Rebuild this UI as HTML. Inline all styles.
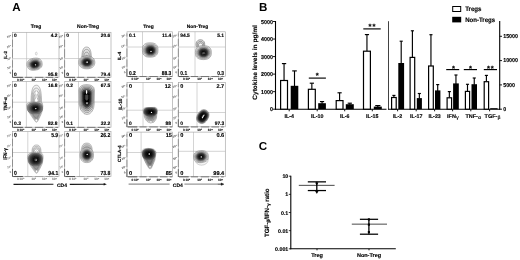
<!DOCTYPE html>
<html lang="en"><head><meta charset="utf-8"><title>Figure: Treg vs Non-Treg cytokines</title>
<style>html,body{margin:0;padding:0;background:#fff}body{width:520px;height:260px;overflow:hidden}svg{display:block;font-family:'Liberation Sans', 'DejaVu Sans', sans-serif;text-rendering:geometricPrecision}</style></head><body>
<svg width="520" height="260" viewBox="0 0 520 260">
<defs><filter id="b0" x="-50%" y="-50%" width="200%" height="200%"><feGaussianBlur stdDeviation="0.3"/></filter><filter id="b2" x="-10%" y="-10%" width="120%" height="120%"><feGaussianBlur stdDeviation="0.28"/></filter></defs>
<rect x="0" y="0" width="520" height="260" fill="#fff" stroke="none" stroke-width="0" />
<text x="12.3" y="11.1" font-size="11.6" font-weight="bold" fill="#000" text-anchor="start" >A</text>
<text x="36.1" y="28.2" font-size="5.0" font-weight="bold" fill="#000" text-anchor="middle" stroke="#000" stroke-width="0.14" >Treg</text>
<text x="88.0" y="28.2" font-size="5.0" font-weight="bold" fill="#000" text-anchor="middle" stroke="#000" stroke-width="0.14" >Non-Treg</text>
<text x="148.5" y="27.8" font-size="4.9" font-weight="bold" fill="#000" text-anchor="middle" stroke="#000" stroke-width="0.14" >Treg</text>
<text x="197.5" y="27.8" font-size="4.9" font-weight="bold" fill="#000" text-anchor="middle" stroke="#000" stroke-width="0.14" >Non-Treg</text>
<line x1="26.6" y1="32.3" x2="26.6" y2="77.2" stroke="#b0b0b0" stroke-width="0.55" />
<line x1="12.6" y1="58.7" x2="59.0" y2="58.7" stroke="#b0b0b0" stroke-width="0.55" />
<g filter="url(#b2)"><path d="M42.08 62.88 L42.22 64.56 L41.96 65.9 L41.37 67.09 L40.46 68.11 L39.24 68.96 L37.71 69.61 L35.64 70.11 L33.53 70.35 L31.87 70.26 L30.43 69.88 L29.22 69.23 L28.26 68.32 L27.57 67.15 L27.12 65.52 L26.98 63.84 L27.24 62.5 L27.83 61.31 L28.74 60.29 L29.96 59.44 L31.49 58.79 L33.56 58.29 L35.67 58.05 L37.33 58.14 L38.77 58.52 L39.98 59.17 L40.94 60.08 L41.63 61.25 Z" fill="#f6f6f6" stroke="#2c2c2c" stroke-width="0.34" vector-effect="non-scaling-stroke" transform="translate(35.2 64.6) scale(1) translate(-35.2 -64.6)"/><path d="M42.08 62.88 L42.22 64.56 L41.96 65.9 L41.37 67.09 L40.46 68.11 L39.24 68.96 L37.71 69.61 L35.64 70.11 L33.53 70.35 L31.87 70.26 L30.43 69.88 L29.22 69.23 L28.26 68.32 L27.57 67.15 L27.12 65.52 L26.98 63.84 L27.24 62.5 L27.83 61.31 L28.74 60.29 L29.96 59.44 L31.49 58.79 L33.56 58.29 L35.67 58.05 L37.33 58.14 L38.77 58.52 L39.98 59.17 L40.94 60.08 L41.63 61.25 Z" fill="#e8e8e8" stroke="#2c2c2c" stroke-width="0.34" vector-effect="non-scaling-stroke" transform="translate(35.2 64.6) scale(0.87) translate(-35.2 -64.6)"/><path d="M42.08 62.88 L42.22 64.56 L41.96 65.9 L41.37 67.09 L40.46 68.11 L39.24 68.96 L37.71 69.61 L35.64 70.11 L33.53 70.35 L31.87 70.26 L30.43 69.88 L29.22 69.23 L28.26 68.32 L27.57 67.15 L27.12 65.52 L26.98 63.84 L27.24 62.5 L27.83 61.31 L28.74 60.29 L29.96 59.44 L31.49 58.79 L33.56 58.29 L35.67 58.05 L37.33 58.14 L38.77 58.52 L39.98 59.17 L40.94 60.08 L41.63 61.25 Z" fill="#d0d0d0" stroke="#2c2c2c" stroke-width="0.34" vector-effect="non-scaling-stroke" transform="translate(35.2 64.6) scale(0.76) translate(-35.2 -64.6)"/><path d="M42.08 62.88 L42.22 64.56 L41.96 65.9 L41.37 67.09 L40.46 68.11 L39.24 68.96 L37.71 69.61 L35.64 70.11 L33.53 70.35 L31.87 70.26 L30.43 69.88 L29.22 69.23 L28.26 68.32 L27.57 67.15 L27.12 65.52 L26.98 63.84 L27.24 62.5 L27.83 61.31 L28.74 60.29 L29.96 59.44 L31.49 58.79 L33.56 58.29 L35.67 58.05 L37.33 58.14 L38.77 58.52 L39.98 59.17 L40.94 60.08 L41.63 61.25 Z" fill="#a4a4a4" stroke="#2c2c2c" stroke-width="0.34" vector-effect="non-scaling-stroke" transform="translate(35.2 64.6) scale(0.67) translate(-35.2 -64.6)"/><path d="M42.08 62.88 L42.22 64.56 L41.96 65.9 L41.37 67.09 L40.46 68.11 L39.24 68.96 L37.71 69.61 L35.64 70.11 L33.53 70.35 L31.87 70.26 L30.43 69.88 L29.22 69.23 L28.26 68.32 L27.57 67.15 L27.12 65.52 L26.98 63.84 L27.24 62.5 L27.83 61.31 L28.74 60.29 L29.96 59.44 L31.49 58.79 L33.56 58.29 L35.67 58.05 L37.33 58.14 L38.77 58.52 L39.98 59.17 L40.94 60.08 L41.63 61.25 Z" fill="#666" stroke="#2c2c2c" stroke-width="0.34" vector-effect="non-scaling-stroke" transform="translate(35.2 64.6) scale(0.59) translate(-35.2 -64.6)"/><path d="M42.08 62.88 L42.22 64.56 L41.96 65.9 L41.37 67.09 L40.46 68.11 L39.24 68.96 L37.71 69.61 L35.64 70.11 L33.53 70.35 L31.87 70.26 L30.43 69.88 L29.22 69.23 L28.26 68.32 L27.57 67.15 L27.12 65.52 L26.98 63.84 L27.24 62.5 L27.83 61.31 L28.74 60.29 L29.96 59.44 L31.49 58.79 L33.56 58.29 L35.67 58.05 L37.33 58.14 L38.77 58.52 L39.98 59.17 L40.94 60.08 L41.63 61.25 Z" fill="#383838" stroke="#2c2c2c" stroke-width="0.34" vector-effect="non-scaling-stroke" transform="translate(35.2 64.6) scale(0.5) translate(-35.2 -64.6)"/><path d="M42.08 62.88 L42.22 64.56 L41.96 65.9 L41.37 67.09 L40.46 68.11 L39.24 68.96 L37.71 69.61 L35.64 70.11 L33.53 70.35 L31.87 70.26 L30.43 69.88 L29.22 69.23 L28.26 68.32 L27.57 67.15 L27.12 65.52 L26.98 63.84 L27.24 62.5 L27.83 61.31 L28.74 60.29 L29.96 59.44 L31.49 58.79 L33.56 58.29 L35.67 58.05 L37.33 58.14 L38.77 58.52 L39.98 59.17 L40.94 60.08 L41.63 61.25 Z" fill="#1c1c1c" stroke="#2c2c2c" stroke-width="0.34" vector-effect="non-scaling-stroke" transform="translate(35.2 64.6) scale(0.4) translate(-35.2 -64.6)"/><path d="M42.08 62.88 L42.22 64.56 L41.96 65.9 L41.37 67.09 L40.46 68.11 L39.24 68.96 L37.71 69.61 L35.64 70.11 L33.53 70.35 L31.87 70.26 L30.43 69.88 L29.22 69.23 L28.26 68.32 L27.57 67.15 L27.12 65.52 L26.98 63.84 L27.24 62.5 L27.83 61.31 L28.74 60.29 L29.96 59.44 L31.49 58.79 L33.56 58.29 L35.67 58.05 L37.33 58.14 L38.77 58.52 L39.98 59.17 L40.94 60.08 L41.63 61.25 Z" fill="#0a0a0a" stroke="#2c2c2c" stroke-width="0.34" vector-effect="non-scaling-stroke" transform="translate(35.2 64.6) scale(0.28) translate(-35.2 -64.6)"/></g><ellipse cx="35.5" cy="64.8" rx="0.7" ry="0.6" fill="#fff" stroke="none" stroke-width="0" filter="url(#b0)"/><ellipse cx="36.3" cy="53.6" rx="0.9" ry="1.4" fill="none" stroke="#888" stroke-width="0.35" />
<rect x="12.6" y="32.3" width="46.4" height="44.900000000000006" fill="none" stroke="#a4a4a4" stroke-width="0.65" />
<line x1="13.2" y1="77.35" x2="22.9" y2="77.35" stroke="#3a3a3a" stroke-width="0.85" />
<line x1="25.1" y1="77.35" x2="32.2" y2="77.35" stroke="#585858" stroke-width="0.75" />
<line x1="34.9" y1="77.35" x2="43.4" y2="77.35" stroke="#585858" stroke-width="0.75" />
<line x1="45.6" y1="77.35" x2="53.2" y2="77.35" stroke="#585858" stroke-width="0.75" />
<line x1="55.3" y1="77.35" x2="58.0" y2="77.35" stroke="#585858" stroke-width="0.75" />
<line x1="12.5" y1="69.7" x2="12.5" y2="77.5" stroke="#4a4a4a" stroke-width="0.85" />
<line x1="12.5" y1="60.2" x2="12.5" y2="67.6" stroke="#7a7a7a" stroke-width="0.7" />
<line x1="12.5" y1="49.2" x2="12.5" y2="57.8" stroke="#7a7a7a" stroke-width="0.7" />
<line x1="12.5" y1="39.6" x2="12.5" y2="47.0" stroke="#7a7a7a" stroke-width="0.7" />
<line x1="12.5" y1="34.2" x2="12.5" y2="37.4" stroke="#7a7a7a" stroke-width="0.7" />
<text x="18.0" y="81.0" font-size="3.2" font-weight="bold" fill="#111" text-anchor="middle" stroke="#111" stroke-width="0.12">0</text>
<text x="21.9" y="81.0" font-size="3.2" font-weight="bold" fill="#111" text-anchor="middle" stroke="#111" stroke-width="0.12">10²</text>
<text x="33.8" y="81.0" font-size="3.2" font-weight="bold" fill="#111" text-anchor="middle" stroke="#111" stroke-width="0.12">10³</text>
<text x="44.6" y="81.0" font-size="3.2" font-weight="bold" fill="#111" text-anchor="middle" stroke="#111" stroke-width="0.12">10⁴</text>
<text x="54.6" y="81.0" font-size="3.2" font-weight="bold" fill="#111" text-anchor="middle" stroke="#111" stroke-width="0.12">10⁵</text>
<text x="11.4" y="36.5" font-size="2.8" font-weight="bold" fill="#3a3a3a" text-anchor="end" transform="rotate(-20 11.4 36.5)" >10⁵</text>
<text x="11.4" y="46.6" font-size="2.8" font-weight="bold" fill="#3a3a3a" text-anchor="end" transform="rotate(-20 11.4 46.6)" >10⁴</text>
<text x="11.4" y="58.9" font-size="2.8" font-weight="bold" fill="#3a3a3a" text-anchor="end" transform="rotate(-20 11.4 58.9)" >10³</text>
<text x="11.4" y="67.9" font-size="2.8" font-weight="bold" fill="#3a3a3a" text-anchor="end" transform="rotate(-20 11.4 67.9)" >10²</text>
<text x="11.4" y="73.4" font-size="2.8" font-weight="bold" fill="#3a3a3a" text-anchor="end" transform="rotate(-20 11.4 73.4)" >0</text>
<text x="14.1" y="36.7" font-size="4.85" font-weight="bold" fill="#000" text-anchor="start" stroke="#000" stroke-width="0.14" >0</text>
<text x="57.4" y="36.7" font-size="4.85" font-weight="bold" fill="#000" text-anchor="end" stroke="#000" stroke-width="0.14" >4.2</text>
<text x="14.1" y="75.5" font-size="4.85" font-weight="bold" fill="#000" text-anchor="start" stroke="#000" stroke-width="0.14" >0</text>
<text x="57.4" y="75.5" font-size="4.85" font-weight="bold" fill="#000" text-anchor="end" stroke="#000" stroke-width="0.14" >95.8</text>
<line x1="142.5" y1="31.8" x2="142.5" y2="76.4" stroke="#b0b0b0" stroke-width="0.55" />
<line x1="127.0" y1="47.0" x2="172.5" y2="47.0" stroke="#b0b0b0" stroke-width="0.55" />
<g filter="url(#b2)"><path d="M158.0 50.0 L157.85 52.21 L157.39 53.73 L156.63 54.96 L155.58 55.93 L154.24 56.63 L152.59 57.06 L150.2 57.2 L147.81 57.06 L146.16 56.63 L144.82 55.93 L143.77 54.96 L143.01 53.73 L142.55 52.21 L142.4 50.0 L142.55 47.79 L143.01 46.27 L143.77 45.04 L144.82 44.07 L146.16 43.37 L147.81 42.94 L150.2 42.8 L152.59 42.94 L154.24 43.37 L155.58 44.07 L156.63 45.04 L157.39 46.27 L157.85 47.79 Z" fill="#f6f6f6" stroke="#2c2c2c" stroke-width="0.34" vector-effect="non-scaling-stroke" transform="translate(150.8 50.8) scale(1) translate(-150.8 -50.8)"/><path d="M158.0 50.0 L157.85 52.21 L157.39 53.73 L156.63 54.96 L155.58 55.93 L154.24 56.63 L152.59 57.06 L150.2 57.2 L147.81 57.06 L146.16 56.63 L144.82 55.93 L143.77 54.96 L143.01 53.73 L142.55 52.21 L142.4 50.0 L142.55 47.79 L143.01 46.27 L143.77 45.04 L144.82 44.07 L146.16 43.37 L147.81 42.94 L150.2 42.8 L152.59 42.94 L154.24 43.37 L155.58 44.07 L156.63 45.04 L157.39 46.27 L157.85 47.79 Z" fill="#e8e8e8" stroke="#2c2c2c" stroke-width="0.34" vector-effect="non-scaling-stroke" transform="translate(150.8 50.8) scale(0.87) translate(-150.8 -50.8)"/><path d="M158.0 50.0 L157.85 52.21 L157.39 53.73 L156.63 54.96 L155.58 55.93 L154.24 56.63 L152.59 57.06 L150.2 57.2 L147.81 57.06 L146.16 56.63 L144.82 55.93 L143.77 54.96 L143.01 53.73 L142.55 52.21 L142.4 50.0 L142.55 47.79 L143.01 46.27 L143.77 45.04 L144.82 44.07 L146.16 43.37 L147.81 42.94 L150.2 42.8 L152.59 42.94 L154.24 43.37 L155.58 44.07 L156.63 45.04 L157.39 46.27 L157.85 47.79 Z" fill="#d0d0d0" stroke="#2c2c2c" stroke-width="0.34" vector-effect="non-scaling-stroke" transform="translate(150.8 50.8) scale(0.76) translate(-150.8 -50.8)"/><path d="M158.0 50.0 L157.85 52.21 L157.39 53.73 L156.63 54.96 L155.58 55.93 L154.24 56.63 L152.59 57.06 L150.2 57.2 L147.81 57.06 L146.16 56.63 L144.82 55.93 L143.77 54.96 L143.01 53.73 L142.55 52.21 L142.4 50.0 L142.55 47.79 L143.01 46.27 L143.77 45.04 L144.82 44.07 L146.16 43.37 L147.81 42.94 L150.2 42.8 L152.59 42.94 L154.24 43.37 L155.58 44.07 L156.63 45.04 L157.39 46.27 L157.85 47.79 Z" fill="#a4a4a4" stroke="#2c2c2c" stroke-width="0.34" vector-effect="non-scaling-stroke" transform="translate(150.8 50.8) scale(0.67) translate(-150.8 -50.8)"/><path d="M158.0 50.0 L157.85 52.21 L157.39 53.73 L156.63 54.96 L155.58 55.93 L154.24 56.63 L152.59 57.06 L150.2 57.2 L147.81 57.06 L146.16 56.63 L144.82 55.93 L143.77 54.96 L143.01 53.73 L142.55 52.21 L142.4 50.0 L142.55 47.79 L143.01 46.27 L143.77 45.04 L144.82 44.07 L146.16 43.37 L147.81 42.94 L150.2 42.8 L152.59 42.94 L154.24 43.37 L155.58 44.07 L156.63 45.04 L157.39 46.27 L157.85 47.79 Z" fill="#666" stroke="#2c2c2c" stroke-width="0.34" vector-effect="non-scaling-stroke" transform="translate(150.8 50.8) scale(0.59) translate(-150.8 -50.8)"/><path d="M158.0 50.0 L157.85 52.21 L157.39 53.73 L156.63 54.96 L155.58 55.93 L154.24 56.63 L152.59 57.06 L150.2 57.2 L147.81 57.06 L146.16 56.63 L144.82 55.93 L143.77 54.96 L143.01 53.73 L142.55 52.21 L142.4 50.0 L142.55 47.79 L143.01 46.27 L143.77 45.04 L144.82 44.07 L146.16 43.37 L147.81 42.94 L150.2 42.8 L152.59 42.94 L154.24 43.37 L155.58 44.07 L156.63 45.04 L157.39 46.27 L157.85 47.79 Z" fill="#383838" stroke="#2c2c2c" stroke-width="0.34" vector-effect="non-scaling-stroke" transform="translate(150.8 50.8) scale(0.5) translate(-150.8 -50.8)"/><path d="M158.0 50.0 L157.85 52.21 L157.39 53.73 L156.63 54.96 L155.58 55.93 L154.24 56.63 L152.59 57.06 L150.2 57.2 L147.81 57.06 L146.16 56.63 L144.82 55.93 L143.77 54.96 L143.01 53.73 L142.55 52.21 L142.4 50.0 L142.55 47.79 L143.01 46.27 L143.77 45.04 L144.82 44.07 L146.16 43.37 L147.81 42.94 L150.2 42.8 L152.59 42.94 L154.24 43.37 L155.58 44.07 L156.63 45.04 L157.39 46.27 L157.85 47.79 Z" fill="#1c1c1c" stroke="#2c2c2c" stroke-width="0.34" vector-effect="non-scaling-stroke" transform="translate(150.8 50.8) scale(0.4) translate(-150.8 -50.8)"/><path d="M158.0 50.0 L157.85 52.21 L157.39 53.73 L156.63 54.96 L155.58 55.93 L154.24 56.63 L152.59 57.06 L150.2 57.2 L147.81 57.06 L146.16 56.63 L144.82 55.93 L143.77 54.96 L143.01 53.73 L142.55 52.21 L142.4 50.0 L142.55 47.79 L143.01 46.27 L143.77 45.04 L144.82 44.07 L146.16 43.37 L147.81 42.94 L150.2 42.8 L152.59 42.94 L154.24 43.37 L155.58 44.07 L156.63 45.04 L157.39 46.27 L157.85 47.79 Z" fill="#0a0a0a" stroke="#2c2c2c" stroke-width="0.34" vector-effect="non-scaling-stroke" transform="translate(150.8 50.8) scale(0.28) translate(-150.8 -50.8)"/></g><ellipse cx="151" cy="51.4" rx="0.7" ry="0.6" fill="#fff" stroke="none" stroke-width="0" filter="url(#b0)"/>
<rect x="127.0" y="31.8" width="45.5" height="44.60000000000001" fill="none" stroke="#a4a4a4" stroke-width="0.65" />
<line x1="127.6" y1="76.55" x2="137.3" y2="76.55" stroke="#3a3a3a" stroke-width="0.85" />
<line x1="139.5" y1="76.55" x2="146.6" y2="76.55" stroke="#585858" stroke-width="0.75" />
<line x1="149.3" y1="76.55" x2="157.8" y2="76.55" stroke="#585858" stroke-width="0.75" />
<line x1="160.0" y1="76.55" x2="167.6" y2="76.55" stroke="#585858" stroke-width="0.75" />
<line x1="169.7" y1="76.55" x2="172.4" y2="76.55" stroke="#585858" stroke-width="0.75" />
<line x1="126.9" y1="68.9" x2="126.9" y2="76.7" stroke="#4a4a4a" stroke-width="0.85" />
<line x1="126.9" y1="59.4" x2="126.9" y2="66.8" stroke="#7a7a7a" stroke-width="0.7" />
<line x1="126.9" y1="48.4" x2="126.9" y2="57.0" stroke="#7a7a7a" stroke-width="0.7" />
<line x1="126.9" y1="38.8" x2="126.9" y2="46.2" stroke="#7a7a7a" stroke-width="0.7" />
<line x1="126.9" y1="33.4" x2="126.9" y2="36.6" stroke="#7a7a7a" stroke-width="0.7" />
<text x="132.4" y="80.2" font-size="3.2" font-weight="bold" fill="#111" text-anchor="middle" stroke="#111" stroke-width="0.12">0</text>
<text x="136.3" y="80.2" font-size="3.2" font-weight="bold" fill="#111" text-anchor="middle" stroke="#111" stroke-width="0.12">10²</text>
<text x="148.2" y="80.2" font-size="3.2" font-weight="bold" fill="#111" text-anchor="middle" stroke="#111" stroke-width="0.12">10³</text>
<text x="159.0" y="80.2" font-size="3.2" font-weight="bold" fill="#111" text-anchor="middle" stroke="#111" stroke-width="0.12">10⁴</text>
<text x="169.0" y="80.2" font-size="3.2" font-weight="bold" fill="#111" text-anchor="middle" stroke="#111" stroke-width="0.12">10⁵</text>
<text x="125.8" y="36.0" font-size="2.8" font-weight="bold" fill="#3a3a3a" text-anchor="end" transform="rotate(-20 125.8 36.0)" >10⁵</text>
<text x="125.8" y="46.1" font-size="2.8" font-weight="bold" fill="#3a3a3a" text-anchor="end" transform="rotate(-20 125.8 46.1)" >10⁴</text>
<text x="125.8" y="58.4" font-size="2.8" font-weight="bold" fill="#3a3a3a" text-anchor="end" transform="rotate(-20 125.8 58.4)" >10³</text>
<text x="125.8" y="67.4" font-size="2.8" font-weight="bold" fill="#3a3a3a" text-anchor="end" transform="rotate(-20 125.8 67.4)" >10²</text>
<text x="125.8" y="72.9" font-size="2.8" font-weight="bold" fill="#3a3a3a" text-anchor="end" transform="rotate(-20 125.8 72.9)" >0</text>
<text x="128.9" y="36.7" font-size="4.9" font-weight="bold" fill="#000" text-anchor="start" stroke="#000" stroke-width="0.14" >0.1</text>
<text x="171.3" y="36.7" font-size="4.9" font-weight="bold" fill="#000" text-anchor="end" stroke="#000" stroke-width="0.14" >11.4</text>
<text transform="translate(128.9 74.7) scale(0.86 1)" font-size="5.7" font-weight="bold" text-anchor="start" stroke="#000" stroke-width="0.14">0.2</text>
<text transform="translate(171.3 74.7) scale(0.86 1)" font-size="5.7" font-weight="bold" text-anchor="end" stroke="#000" stroke-width="0.14">88.3</text>
<line x1="78.5" y1="32.3" x2="78.5" y2="77.2" stroke="#b0b0b0" stroke-width="0.55" />
<line x1="64.7" y1="58.5" x2="111.0" y2="58.5" stroke="#b0b0b0" stroke-width="0.55" />
<g filter="url(#b2)"><path d="M81.7 60 C81.8 51.94 82.68 47 86.6 47 C90.52 47 91.4 51.94 91.5 60 Z" fill="#e9e9e9" stroke="#4e4e4e" stroke-width="0.38" vector-effect="non-scaling-stroke" transform="translate(86.6 60) scale(1) translate(-86.6 -60)"/><path d="M81.7 60 C81.8 51.94 82.68 47 86.6 47 C90.52 47 91.4 51.94 91.5 60 Z" fill="#dedede" stroke="#4e4e4e" stroke-width="0.38" vector-effect="non-scaling-stroke" transform="translate(86.6 60) scale(0.82) translate(-86.6 -60)"/><path d="M81.7 60 C81.8 51.94 82.68 47 86.6 47 C90.52 47 91.4 51.94 91.5 60 Z" fill="#d6d6d6" stroke="#4e4e4e" stroke-width="0.38" vector-effect="non-scaling-stroke" transform="translate(86.6 60) scale(0.6) translate(-86.6 -60)"/><path d="M81.7 60 C81.8 51.94 82.68 47 86.6 47 C90.52 47 91.4 51.94 91.5 60 Z" fill="#e4e4e4" stroke="#4e4e4e" stroke-width="0.38" vector-effect="non-scaling-stroke" transform="translate(86.6 60) scale(0.36) translate(-86.6 -60)"/></g><g filter="url(#b2)"><path d="M94.8 62.4 L94.62 64.1 L94.1 65.47 L93.24 66.62 L92.08 67.55 L90.63 68.24 L88.93 68.66 L86.8 68.8 L84.67 68.66 L82.97 68.24 L81.52 67.55 L80.36 66.62 L79.5 65.47 L78.98 64.1 L78.8 62.4 L78.98 60.7 L79.5 59.33 L80.36 58.18 L81.52 57.25 L82.97 56.56 L84.67 56.14 L86.8 56.0 L88.93 56.14 L90.63 56.56 L92.08 57.25 L93.24 58.18 L94.1 59.33 L94.62 60.7 Z" fill="#f6f6f6" stroke="#2c2c2c" stroke-width="0.34" vector-effect="non-scaling-stroke" transform="translate(86.9 62.2) scale(1) translate(-86.9 -62.2)"/><path d="M94.8 62.4 L94.62 64.1 L94.1 65.47 L93.24 66.62 L92.08 67.55 L90.63 68.24 L88.93 68.66 L86.8 68.8 L84.67 68.66 L82.97 68.24 L81.52 67.55 L80.36 66.62 L79.5 65.47 L78.98 64.1 L78.8 62.4 L78.98 60.7 L79.5 59.33 L80.36 58.18 L81.52 57.25 L82.97 56.56 L84.67 56.14 L86.8 56.0 L88.93 56.14 L90.63 56.56 L92.08 57.25 L93.24 58.18 L94.1 59.33 L94.62 60.7 Z" fill="#e8e8e8" stroke="#2c2c2c" stroke-width="0.34" vector-effect="non-scaling-stroke" transform="translate(86.9 62.2) scale(0.87) translate(-86.9 -62.2)"/><path d="M94.8 62.4 L94.62 64.1 L94.1 65.47 L93.24 66.62 L92.08 67.55 L90.63 68.24 L88.93 68.66 L86.8 68.8 L84.67 68.66 L82.97 68.24 L81.52 67.55 L80.36 66.62 L79.5 65.47 L78.98 64.1 L78.8 62.4 L78.98 60.7 L79.5 59.33 L80.36 58.18 L81.52 57.25 L82.97 56.56 L84.67 56.14 L86.8 56.0 L88.93 56.14 L90.63 56.56 L92.08 57.25 L93.24 58.18 L94.1 59.33 L94.62 60.7 Z" fill="#d0d0d0" stroke="#2c2c2c" stroke-width="0.34" vector-effect="non-scaling-stroke" transform="translate(86.9 62.2) scale(0.76) translate(-86.9 -62.2)"/><path d="M94.8 62.4 L94.62 64.1 L94.1 65.47 L93.24 66.62 L92.08 67.55 L90.63 68.24 L88.93 68.66 L86.8 68.8 L84.67 68.66 L82.97 68.24 L81.52 67.55 L80.36 66.62 L79.5 65.47 L78.98 64.1 L78.8 62.4 L78.98 60.7 L79.5 59.33 L80.36 58.18 L81.52 57.25 L82.97 56.56 L84.67 56.14 L86.8 56.0 L88.93 56.14 L90.63 56.56 L92.08 57.25 L93.24 58.18 L94.1 59.33 L94.62 60.7 Z" fill="#a4a4a4" stroke="#2c2c2c" stroke-width="0.34" vector-effect="non-scaling-stroke" transform="translate(86.9 62.2) scale(0.67) translate(-86.9 -62.2)"/><path d="M94.8 62.4 L94.62 64.1 L94.1 65.47 L93.24 66.62 L92.08 67.55 L90.63 68.24 L88.93 68.66 L86.8 68.8 L84.67 68.66 L82.97 68.24 L81.52 67.55 L80.36 66.62 L79.5 65.47 L78.98 64.1 L78.8 62.4 L78.98 60.7 L79.5 59.33 L80.36 58.18 L81.52 57.25 L82.97 56.56 L84.67 56.14 L86.8 56.0 L88.93 56.14 L90.63 56.56 L92.08 57.25 L93.24 58.18 L94.1 59.33 L94.62 60.7 Z" fill="#666" stroke="#2c2c2c" stroke-width="0.34" vector-effect="non-scaling-stroke" transform="translate(86.9 62.2) scale(0.59) translate(-86.9 -62.2)"/><path d="M94.8 62.4 L94.62 64.1 L94.1 65.47 L93.24 66.62 L92.08 67.55 L90.63 68.24 L88.93 68.66 L86.8 68.8 L84.67 68.66 L82.97 68.24 L81.52 67.55 L80.36 66.62 L79.5 65.47 L78.98 64.1 L78.8 62.4 L78.98 60.7 L79.5 59.33 L80.36 58.18 L81.52 57.25 L82.97 56.56 L84.67 56.14 L86.8 56.0 L88.93 56.14 L90.63 56.56 L92.08 57.25 L93.24 58.18 L94.1 59.33 L94.62 60.7 Z" fill="#383838" stroke="#2c2c2c" stroke-width="0.34" vector-effect="non-scaling-stroke" transform="translate(86.9 62.2) scale(0.5) translate(-86.9 -62.2)"/><path d="M94.8 62.4 L94.62 64.1 L94.1 65.47 L93.24 66.62 L92.08 67.55 L90.63 68.24 L88.93 68.66 L86.8 68.8 L84.67 68.66 L82.97 68.24 L81.52 67.55 L80.36 66.62 L79.5 65.47 L78.98 64.1 L78.8 62.4 L78.98 60.7 L79.5 59.33 L80.36 58.18 L81.52 57.25 L82.97 56.56 L84.67 56.14 L86.8 56.0 L88.93 56.14 L90.63 56.56 L92.08 57.25 L93.24 58.18 L94.1 59.33 L94.62 60.7 Z" fill="#1c1c1c" stroke="#2c2c2c" stroke-width="0.34" vector-effect="non-scaling-stroke" transform="translate(86.9 62.2) scale(0.4) translate(-86.9 -62.2)"/><path d="M94.8 62.4 L94.62 64.1 L94.1 65.47 L93.24 66.62 L92.08 67.55 L90.63 68.24 L88.93 68.66 L86.8 68.8 L84.67 68.66 L82.97 68.24 L81.52 67.55 L80.36 66.62 L79.5 65.47 L78.98 64.1 L78.8 62.4 L78.98 60.7 L79.5 59.33 L80.36 58.18 L81.52 57.25 L82.97 56.56 L84.67 56.14 L86.8 56.0 L88.93 56.14 L90.63 56.56 L92.08 57.25 L93.24 58.18 L94.1 59.33 L94.62 60.7 Z" fill="#0a0a0a" stroke="#2c2c2c" stroke-width="0.34" vector-effect="non-scaling-stroke" transform="translate(86.9 62.2) scale(0.28) translate(-86.9 -62.2)"/><path d="M94.8 62.4 L94.62 64.1 L94.1 65.47 L93.24 66.62 L92.08 67.55 L90.63 68.24 L88.93 68.66 L86.8 68.8 L84.67 68.66 L82.97 68.24 L81.52 67.55 L80.36 66.62 L79.5 65.47 L78.98 64.1 L78.8 62.4 L78.98 60.7 L79.5 59.33 L80.36 58.18 L81.52 57.25 L82.97 56.56 L84.67 56.14 L86.8 56.0 L88.93 56.14 L90.63 56.56 L92.08 57.25 L93.24 58.18 L94.1 59.33 L94.62 60.7 Z" fill="#5a5a5a" stroke="#2c2c2c" stroke-width="0.34" vector-effect="non-scaling-stroke" transform="translate(86.9 62.2) scale(0.16) translate(-86.9 -62.2)"/></g><ellipse cx="87.2" cy="62.2" rx="0.7" ry="0.6" fill="#fff" stroke="none" stroke-width="0" filter="url(#b0)"/>
<rect x="64.7" y="32.3" width="46.3" height="44.900000000000006" fill="none" stroke="#a4a4a4" stroke-width="0.65" />
<line x1="65.3" y1="77.35" x2="75.0" y2="77.35" stroke="#3a3a3a" stroke-width="0.85" />
<line x1="77.2" y1="77.35" x2="84.3" y2="77.35" stroke="#585858" stroke-width="0.75" />
<line x1="87.0" y1="77.35" x2="95.5" y2="77.35" stroke="#585858" stroke-width="0.75" />
<line x1="97.7" y1="77.35" x2="105.3" y2="77.35" stroke="#585858" stroke-width="0.75" />
<line x1="107.4" y1="77.35" x2="110.1" y2="77.35" stroke="#585858" stroke-width="0.75" />
<line x1="64.6" y1="69.7" x2="64.6" y2="77.5" stroke="#4a4a4a" stroke-width="0.85" />
<line x1="64.6" y1="60.2" x2="64.6" y2="67.6" stroke="#7a7a7a" stroke-width="0.7" />
<line x1="64.6" y1="49.2" x2="64.6" y2="57.8" stroke="#7a7a7a" stroke-width="0.7" />
<line x1="64.6" y1="39.6" x2="64.6" y2="47.0" stroke="#7a7a7a" stroke-width="0.7" />
<line x1="64.6" y1="34.2" x2="64.6" y2="37.4" stroke="#7a7a7a" stroke-width="0.7" />
<text x="70.1" y="81.0" font-size="3.2" font-weight="bold" fill="#111" text-anchor="middle" stroke="#111" stroke-width="0.12">0</text>
<text x="74.0" y="81.0" font-size="3.2" font-weight="bold" fill="#111" text-anchor="middle" stroke="#111" stroke-width="0.12">10²</text>
<text x="85.9" y="81.0" font-size="3.2" font-weight="bold" fill="#111" text-anchor="middle" stroke="#111" stroke-width="0.12">10³</text>
<text x="96.7" y="81.0" font-size="3.2" font-weight="bold" fill="#111" text-anchor="middle" stroke="#111" stroke-width="0.12">10⁴</text>
<text x="106.7" y="81.0" font-size="3.2" font-weight="bold" fill="#111" text-anchor="middle" stroke="#111" stroke-width="0.12">10⁵</text>
<text x="63.5" y="36.5" font-size="2.8" font-weight="bold" fill="#3a3a3a" text-anchor="end" transform="rotate(-20 63.5 36.5)" >10⁵</text>
<text x="63.5" y="46.6" font-size="2.8" font-weight="bold" fill="#3a3a3a" text-anchor="end" transform="rotate(-20 63.5 46.6)" >10⁴</text>
<text x="63.5" y="58.9" font-size="2.8" font-weight="bold" fill="#3a3a3a" text-anchor="end" transform="rotate(-20 63.5 58.9)" >10³</text>
<text x="63.5" y="67.9" font-size="2.8" font-weight="bold" fill="#3a3a3a" text-anchor="end" transform="rotate(-20 63.5 67.9)" >10²</text>
<text x="63.5" y="73.4" font-size="2.8" font-weight="bold" fill="#3a3a3a" text-anchor="end" transform="rotate(-20 63.5 73.4)" >0</text>
<text x="66.2" y="36.7" font-size="4.85" font-weight="bold" fill="#000" text-anchor="start" stroke="#000" stroke-width="0.14" >0</text>
<text x="110.3" y="36.7" font-size="4.85" font-weight="bold" fill="#000" text-anchor="end" stroke="#000" stroke-width="0.14" >20.6</text>
<text x="66.2" y="75.5" font-size="4.85" font-weight="bold" fill="#000" text-anchor="start" stroke="#000" stroke-width="0.14" >0</text>
<text x="110.3" y="75.5" font-size="4.85" font-weight="bold" fill="#000" text-anchor="end" stroke="#000" stroke-width="0.14" >79.4</text>
<line x1="195.0" y1="31.8" x2="195.0" y2="76.4" stroke="#b0b0b0" stroke-width="0.55" />
<line x1="178.4" y1="47.0" x2="225.3" y2="47.0" stroke="#b0b0b0" stroke-width="0.55" />
<g filter="url(#b2)"><path d="M204.7 44.4 L204.6 45.56 L204.31 46.54 L203.83 47.38 L203.19 48.07 L202.4 48.58 L201.48 48.89 L200.4 49.0 L199.32 48.89 L198.4 48.58 L197.61 48.07 L196.97 47.38 L196.49 46.54 L196.2 45.56 L196.1 44.4 L196.2 43.24 L196.49 42.26 L196.97 41.42 L197.61 40.73 L198.4 40.22 L199.32 39.91 L200.4 39.8 L201.48 39.91 L202.4 40.22 L203.19 40.73 L203.83 41.42 L204.31 42.26 L204.6 43.24 Z" fill="#ededed" stroke="#4a4a4a" stroke-width="0.55" vector-effect="non-scaling-stroke" transform="translate(200.6 45.6) scale(1) translate(-200.6 -45.6)"/><path d="M204.7 44.4 L204.6 45.56 L204.31 46.54 L203.83 47.38 L203.19 48.07 L202.4 48.58 L201.48 48.89 L200.4 49.0 L199.32 48.89 L198.4 48.58 L197.61 48.07 L196.97 47.38 L196.49 46.54 L196.2 45.56 L196.1 44.4 L196.2 43.24 L196.49 42.26 L196.97 41.42 L197.61 40.73 L198.4 40.22 L199.32 39.91 L200.4 39.8 L201.48 39.91 L202.4 40.22 L203.19 40.73 L203.83 41.42 L204.31 42.26 L204.6 43.24 Z" fill="#dcdcdc" stroke="#4a4a4a" stroke-width="0.55" vector-effect="non-scaling-stroke" transform="translate(200.6 45.6) scale(0.74) translate(-200.6 -45.6)"/><path d="M204.7 44.4 L204.6 45.56 L204.31 46.54 L203.83 47.38 L203.19 48.07 L202.4 48.58 L201.48 48.89 L200.4 49.0 L199.32 48.89 L198.4 48.58 L197.61 48.07 L196.97 47.38 L196.49 46.54 L196.2 45.56 L196.1 44.4 L196.2 43.24 L196.49 42.26 L196.97 41.42 L197.61 40.73 L198.4 40.22 L199.32 39.91 L200.4 39.8 L201.48 39.91 L202.4 40.22 L203.19 40.73 L203.83 41.42 L204.31 42.26 L204.6 43.24 Z" fill="#f6f6f6" stroke="#4a4a4a" stroke-width="0.55" vector-effect="non-scaling-stroke" transform="translate(200.6 45.6) scale(0.46) translate(-200.6 -45.6)"/></g><g filter="url(#b2)"><path d="M211.4 52.6 L211.24 54.65 L210.75 56.14 L209.94 57.36 L208.84 58.33 L207.45 59.03 L205.75 59.46 L203.4 59.6 L201.05 59.46 L199.35 59.03 L197.96 58.33 L196.86 57.36 L196.05 56.14 L195.56 54.65 L195.4 52.6 L195.56 50.55 L196.05 49.06 L196.86 47.84 L197.96 46.87 L199.35 46.17 L201.05 45.74 L203.4 45.6 L205.75 45.74 L207.45 46.17 L208.84 46.87 L209.94 47.84 L210.75 49.06 L211.24 50.55 Z" fill="#f6f6f6" stroke="#2c2c2c" stroke-width="0.34" vector-effect="non-scaling-stroke" transform="translate(203.8 52.8) scale(1) translate(-203.8 -52.8)"/><path d="M211.4 52.6 L211.24 54.65 L210.75 56.14 L209.94 57.36 L208.84 58.33 L207.45 59.03 L205.75 59.46 L203.4 59.6 L201.05 59.46 L199.35 59.03 L197.96 58.33 L196.86 57.36 L196.05 56.14 L195.56 54.65 L195.4 52.6 L195.56 50.55 L196.05 49.06 L196.86 47.84 L197.96 46.87 L199.35 46.17 L201.05 45.74 L203.4 45.6 L205.75 45.74 L207.45 46.17 L208.84 46.87 L209.94 47.84 L210.75 49.06 L211.24 50.55 Z" fill="#e8e8e8" stroke="#2c2c2c" stroke-width="0.34" vector-effect="non-scaling-stroke" transform="translate(203.8 52.8) scale(0.87) translate(-203.8 -52.8)"/><path d="M211.4 52.6 L211.24 54.65 L210.75 56.14 L209.94 57.36 L208.84 58.33 L207.45 59.03 L205.75 59.46 L203.4 59.6 L201.05 59.46 L199.35 59.03 L197.96 58.33 L196.86 57.36 L196.05 56.14 L195.56 54.65 L195.4 52.6 L195.56 50.55 L196.05 49.06 L196.86 47.84 L197.96 46.87 L199.35 46.17 L201.05 45.74 L203.4 45.6 L205.75 45.74 L207.45 46.17 L208.84 46.87 L209.94 47.84 L210.75 49.06 L211.24 50.55 Z" fill="#d0d0d0" stroke="#2c2c2c" stroke-width="0.34" vector-effect="non-scaling-stroke" transform="translate(203.8 52.8) scale(0.76) translate(-203.8 -52.8)"/><path d="M211.4 52.6 L211.24 54.65 L210.75 56.14 L209.94 57.36 L208.84 58.33 L207.45 59.03 L205.75 59.46 L203.4 59.6 L201.05 59.46 L199.35 59.03 L197.96 58.33 L196.86 57.36 L196.05 56.14 L195.56 54.65 L195.4 52.6 L195.56 50.55 L196.05 49.06 L196.86 47.84 L197.96 46.87 L199.35 46.17 L201.05 45.74 L203.4 45.6 L205.75 45.74 L207.45 46.17 L208.84 46.87 L209.94 47.84 L210.75 49.06 L211.24 50.55 Z" fill="#a4a4a4" stroke="#2c2c2c" stroke-width="0.34" vector-effect="non-scaling-stroke" transform="translate(203.8 52.8) scale(0.67) translate(-203.8 -52.8)"/><path d="M211.4 52.6 L211.24 54.65 L210.75 56.14 L209.94 57.36 L208.84 58.33 L207.45 59.03 L205.75 59.46 L203.4 59.6 L201.05 59.46 L199.35 59.03 L197.96 58.33 L196.86 57.36 L196.05 56.14 L195.56 54.65 L195.4 52.6 L195.56 50.55 L196.05 49.06 L196.86 47.84 L197.96 46.87 L199.35 46.17 L201.05 45.74 L203.4 45.6 L205.75 45.74 L207.45 46.17 L208.84 46.87 L209.94 47.84 L210.75 49.06 L211.24 50.55 Z" fill="#666" stroke="#2c2c2c" stroke-width="0.34" vector-effect="non-scaling-stroke" transform="translate(203.8 52.8) scale(0.59) translate(-203.8 -52.8)"/><path d="M211.4 52.6 L211.24 54.65 L210.75 56.14 L209.94 57.36 L208.84 58.33 L207.45 59.03 L205.75 59.46 L203.4 59.6 L201.05 59.46 L199.35 59.03 L197.96 58.33 L196.86 57.36 L196.05 56.14 L195.56 54.65 L195.4 52.6 L195.56 50.55 L196.05 49.06 L196.86 47.84 L197.96 46.87 L199.35 46.17 L201.05 45.74 L203.4 45.6 L205.75 45.74 L207.45 46.17 L208.84 46.87 L209.94 47.84 L210.75 49.06 L211.24 50.55 Z" fill="#383838" stroke="#2c2c2c" stroke-width="0.34" vector-effect="non-scaling-stroke" transform="translate(203.8 52.8) scale(0.5) translate(-203.8 -52.8)"/><path d="M211.4 52.6 L211.24 54.65 L210.75 56.14 L209.94 57.36 L208.84 58.33 L207.45 59.03 L205.75 59.46 L203.4 59.6 L201.05 59.46 L199.35 59.03 L197.96 58.33 L196.86 57.36 L196.05 56.14 L195.56 54.65 L195.4 52.6 L195.56 50.55 L196.05 49.06 L196.86 47.84 L197.96 46.87 L199.35 46.17 L201.05 45.74 L203.4 45.6 L205.75 45.74 L207.45 46.17 L208.84 46.87 L209.94 47.84 L210.75 49.06 L211.24 50.55 Z" fill="#1c1c1c" stroke="#2c2c2c" stroke-width="0.34" vector-effect="non-scaling-stroke" transform="translate(203.8 52.8) scale(0.4) translate(-203.8 -52.8)"/><path d="M211.4 52.6 L211.24 54.65 L210.75 56.14 L209.94 57.36 L208.84 58.33 L207.45 59.03 L205.75 59.46 L203.4 59.6 L201.05 59.46 L199.35 59.03 L197.96 58.33 L196.86 57.36 L196.05 56.14 L195.56 54.65 L195.4 52.6 L195.56 50.55 L196.05 49.06 L196.86 47.84 L197.96 46.87 L199.35 46.17 L201.05 45.74 L203.4 45.6 L205.75 45.74 L207.45 46.17 L208.84 46.87 L209.94 47.84 L210.75 49.06 L211.24 50.55 Z" fill="#0a0a0a" stroke="#2c2c2c" stroke-width="0.34" vector-effect="non-scaling-stroke" transform="translate(203.8 52.8) scale(0.28) translate(-203.8 -52.8)"/></g><ellipse cx="203.6" cy="53" rx="1.8" ry="0.5" fill="#9a9a9a" stroke="none" stroke-width="0" transform="rotate(-15 203.6 53)" filter="url(#b0)"/>
<rect x="178.4" y="31.8" width="46.900000000000006" height="44.60000000000001" fill="none" stroke="#a4a4a4" stroke-width="0.65" />
<line x1="179.0" y1="76.55" x2="188.70000000000002" y2="76.55" stroke="#3a3a3a" stroke-width="0.85" />
<line x1="190.9" y1="76.55" x2="198.0" y2="76.55" stroke="#585858" stroke-width="0.75" />
<line x1="200.7" y1="76.55" x2="209.2" y2="76.55" stroke="#585858" stroke-width="0.75" />
<line x1="211.4" y1="76.55" x2="219.0" y2="76.55" stroke="#585858" stroke-width="0.75" />
<line x1="221.1" y1="76.55" x2="223.8" y2="76.55" stroke="#585858" stroke-width="0.75" />
<line x1="178.3" y1="68.9" x2="178.3" y2="76.7" stroke="#4a4a4a" stroke-width="0.85" />
<line x1="178.3" y1="59.4" x2="178.3" y2="66.8" stroke="#7a7a7a" stroke-width="0.7" />
<line x1="178.3" y1="48.4" x2="178.3" y2="57.0" stroke="#7a7a7a" stroke-width="0.7" />
<line x1="178.3" y1="38.8" x2="178.3" y2="46.2" stroke="#7a7a7a" stroke-width="0.7" />
<line x1="178.3" y1="33.4" x2="178.3" y2="36.6" stroke="#7a7a7a" stroke-width="0.7" />
<text x="183.8" y="80.2" font-size="3.2" font-weight="bold" fill="#111" text-anchor="middle" stroke="#111" stroke-width="0.12">0</text>
<text x="187.7" y="80.2" font-size="3.2" font-weight="bold" fill="#111" text-anchor="middle" stroke="#111" stroke-width="0.12">10²</text>
<text x="199.6" y="80.2" font-size="3.2" font-weight="bold" fill="#111" text-anchor="middle" stroke="#111" stroke-width="0.12">10³</text>
<text x="210.4" y="80.2" font-size="3.2" font-weight="bold" fill="#111" text-anchor="middle" stroke="#111" stroke-width="0.12">10⁴</text>
<text x="220.4" y="80.2" font-size="3.2" font-weight="bold" fill="#111" text-anchor="middle" stroke="#111" stroke-width="0.12">10⁵</text>
<text x="177.2" y="36.0" font-size="2.8" font-weight="bold" fill="#3a3a3a" text-anchor="end" transform="rotate(-20 177.2 36.0)" >10⁵</text>
<text x="177.2" y="46.1" font-size="2.8" font-weight="bold" fill="#3a3a3a" text-anchor="end" transform="rotate(-20 177.2 46.1)" >10⁴</text>
<text x="177.2" y="58.4" font-size="2.8" font-weight="bold" fill="#3a3a3a" text-anchor="end" transform="rotate(-20 177.2 58.4)" >10³</text>
<text x="177.2" y="67.4" font-size="2.8" font-weight="bold" fill="#3a3a3a" text-anchor="end" transform="rotate(-20 177.2 67.4)" >10²</text>
<text x="177.2" y="72.9" font-size="2.8" font-weight="bold" fill="#3a3a3a" text-anchor="end" transform="rotate(-20 177.2 72.9)" >0</text>
<text x="180.3" y="36.7" font-size="4.9" font-weight="bold" fill="#000" text-anchor="start" stroke="#000" stroke-width="0.14" >94.5</text>
<text x="224.1" y="36.7" font-size="4.9" font-weight="bold" fill="#000" text-anchor="end" stroke="#000" stroke-width="0.14" >5.1</text>
<text transform="translate(180.3 74.7) scale(0.86 1)" font-size="5.7" font-weight="bold" text-anchor="start" stroke="#000" stroke-width="0.14">0.1</text>
<text transform="translate(224.1 74.7) scale(0.86 1)" font-size="5.7" font-weight="bold" text-anchor="end" stroke="#000" stroke-width="0.14">0.3</text>
<line x1="26.4" y1="81.5" x2="26.4" y2="127.2" stroke="#b0b0b0" stroke-width="0.55" />
<line x1="12.6" y1="102.2" x2="59.0" y2="102.2" stroke="#b0b0b0" stroke-width="0.55" />
<g filter="url(#b2)"><path d="M31.0 103 C31.11 91.96 32.06 85.2 36.3 85.2 C40.54 85.2 41.49 91.96 41.6 103 Z" fill="#f2f2f2" stroke="#5a5a5a" stroke-width="0.38" vector-effect="non-scaling-stroke" transform="translate(36.3 103) scale(1) translate(-36.3 -103)"/><path d="M31.0 103 C31.11 91.96 32.06 85.2 36.3 85.2 C40.54 85.2 41.49 91.96 41.6 103 Z" fill="#ebebeb" stroke="#5a5a5a" stroke-width="0.38" vector-effect="non-scaling-stroke" transform="translate(36.3 103) scale(0.84) translate(-36.3 -103)"/><path d="M31.0 103 C31.11 91.96 32.06 85.2 36.3 85.2 C40.54 85.2 41.49 91.96 41.6 103 Z" fill="#e2e2e2" stroke="#5a5a5a" stroke-width="0.38" vector-effect="non-scaling-stroke" transform="translate(36.3 103) scale(0.68) translate(-36.3 -103)"/><path d="M31.0 103 C31.11 91.96 32.06 85.2 36.3 85.2 C40.54 85.2 41.49 91.96 41.6 103 Z" fill="#d8d8d8" stroke="#5a5a5a" stroke-width="0.38" vector-effect="non-scaling-stroke" transform="translate(36.3 103) scale(0.52) translate(-36.3 -103)"/><path d="M31.0 103 C31.11 91.96 32.06 85.2 36.3 85.2 C40.54 85.2 41.49 91.96 41.6 103 Z" fill="#fff" stroke="#5a5a5a" stroke-width="0.38" vector-effect="non-scaling-stroke" transform="translate(36.3 103) scale(0.3) translate(-36.3 -103)"/></g><g filter="url(#b2)"><path d="M26.6 106.4 Q26.4 102.4 31 102.2 L40 101.8 Q43 102 42.9 106 Q42.8 111 40.8 115 L37.8 121.2 Q36.4 123.2 35.2 121.4 L30.4 114.6 Q26.8 110 26.6 106.4 Z" fill="#e8e8e8" stroke="#555" stroke-width="0.34" vector-effect="non-scaling-stroke" transform="translate(35.8 110) scale(1) translate(-35.8 -110)"/><path d="M26.6 106.4 Q26.4 102.4 31 102.2 L40 101.8 Q43 102 42.9 106 Q42.8 111 40.8 115 L37.8 121.2 Q36.4 123.2 35.2 121.4 L30.4 114.6 Q26.8 110 26.6 106.4 Z" fill="#cfcfcf" stroke="#555" stroke-width="0.34" vector-effect="non-scaling-stroke" transform="translate(35.8 110) scale(0.9) translate(-35.8 -110)"/><path d="M26.6 106.4 Q26.4 102.4 31 102.2 L40 101.8 Q43 102 42.9 106 Q42.8 111 40.8 115 L37.8 121.2 Q36.4 123.2 35.2 121.4 L30.4 114.6 Q26.8 110 26.6 106.4 Z" fill="#b4b4b4" stroke="#555" stroke-width="0.34" vector-effect="non-scaling-stroke" transform="translate(35.8 110) scale(0.8) translate(-35.8 -110)"/><path d="M26.6 106.4 Q26.4 102.4 31 102.2 L40 101.8 Q43 102 42.9 106 Q42.8 111 40.8 115 L37.8 121.2 Q36.4 123.2 35.2 121.4 L30.4 114.6 Q26.8 110 26.6 106.4 Z" fill="#9a9a9a" stroke="#555" stroke-width="0.34" vector-effect="non-scaling-stroke" transform="translate(35.8 110) scale(0.7) translate(-35.8 -110)"/></g><g filter="url(#b2)"><path d="M42.6 108.2 L42.44 109.77 L41.96 110.96 L41.17 111.95 L40.09 112.75 L38.75 113.33 L37.13 113.68 L35.0 113.8 L32.87 113.68 L31.25 113.33 L29.91 112.75 L28.83 111.95 L28.04 110.96 L27.56 109.77 L27.4 108.2 L27.56 106.63 L28.04 105.44 L28.83 104.45 L29.91 103.65 L31.25 103.07 L32.87 102.72 L35.0 102.6 L37.13 102.72 L38.75 103.07 L40.09 103.65 L41.17 104.45 L41.96 105.44 L42.44 106.63 Z" fill="#a2a2a2" stroke="#2c2c2c" stroke-width="0.34" vector-effect="non-scaling-stroke" transform="translate(35.6 108.4) scale(1) translate(-35.6 -108.4)"/><path d="M42.6 108.2 L42.44 109.77 L41.96 110.96 L41.17 111.95 L40.09 112.75 L38.75 113.33 L37.13 113.68 L35.0 113.8 L32.87 113.68 L31.25 113.33 L29.91 112.75 L28.83 111.95 L28.04 110.96 L27.56 109.77 L27.4 108.2 L27.56 106.63 L28.04 105.44 L28.83 104.45 L29.91 103.65 L31.25 103.07 L32.87 102.72 L35.0 102.6 L37.13 102.72 L38.75 103.07 L40.09 103.65 L41.17 104.45 L41.96 105.44 L42.44 106.63 Z" fill="#848484" stroke="#2c2c2c" stroke-width="0.34" vector-effect="non-scaling-stroke" transform="translate(35.6 108.4) scale(0.88) translate(-35.6 -108.4)"/><path d="M42.6 108.2 L42.44 109.77 L41.96 110.96 L41.17 111.95 L40.09 112.75 L38.75 113.33 L37.13 113.68 L35.0 113.8 L32.87 113.68 L31.25 113.33 L29.91 112.75 L28.83 111.95 L28.04 110.96 L27.56 109.77 L27.4 108.2 L27.56 106.63 L28.04 105.44 L28.83 104.45 L29.91 103.65 L31.25 103.07 L32.87 102.72 L35.0 102.6 L37.13 102.72 L38.75 103.07 L40.09 103.65 L41.17 104.45 L41.96 105.44 L42.44 106.63 Z" fill="#626262" stroke="#2c2c2c" stroke-width="0.34" vector-effect="non-scaling-stroke" transform="translate(35.6 108.4) scale(0.76) translate(-35.6 -108.4)"/><path d="M42.6 108.2 L42.44 109.77 L41.96 110.96 L41.17 111.95 L40.09 112.75 L38.75 113.33 L37.13 113.68 L35.0 113.8 L32.87 113.68 L31.25 113.33 L29.91 112.75 L28.83 111.95 L28.04 110.96 L27.56 109.77 L27.4 108.2 L27.56 106.63 L28.04 105.44 L28.83 104.45 L29.91 103.65 L31.25 103.07 L32.87 102.72 L35.0 102.6 L37.13 102.72 L38.75 103.07 L40.09 103.65 L41.17 104.45 L41.96 105.44 L42.44 106.63 Z" fill="#404040" stroke="#2c2c2c" stroke-width="0.34" vector-effect="non-scaling-stroke" transform="translate(35.6 108.4) scale(0.62) translate(-35.6 -108.4)"/><path d="M42.6 108.2 L42.44 109.77 L41.96 110.96 L41.17 111.95 L40.09 112.75 L38.75 113.33 L37.13 113.68 L35.0 113.8 L32.87 113.68 L31.25 113.33 L29.91 112.75 L28.83 111.95 L28.04 110.96 L27.56 109.77 L27.4 108.2 L27.56 106.63 L28.04 105.44 L28.83 104.45 L29.91 103.65 L31.25 103.07 L32.87 102.72 L35.0 102.6 L37.13 102.72 L38.75 103.07 L40.09 103.65 L41.17 104.45 L41.96 105.44 L42.44 106.63 Z" fill="#202020" stroke="#2c2c2c" stroke-width="0.34" vector-effect="non-scaling-stroke" transform="translate(35.6 108.4) scale(0.48) translate(-35.6 -108.4)"/><path d="M42.6 108.2 L42.44 109.77 L41.96 110.96 L41.17 111.95 L40.09 112.75 L38.75 113.33 L37.13 113.68 L35.0 113.8 L32.87 113.68 L31.25 113.33 L29.91 112.75 L28.83 111.95 L28.04 110.96 L27.56 109.77 L27.4 108.2 L27.56 106.63 L28.04 105.44 L28.83 104.45 L29.91 103.65 L31.25 103.07 L32.87 102.72 L35.0 102.6 L37.13 102.72 L38.75 103.07 L40.09 103.65 L41.17 104.45 L41.96 105.44 L42.44 106.63 Z" fill="#080808" stroke="#2c2c2c" stroke-width="0.34" vector-effect="non-scaling-stroke" transform="translate(35.6 108.4) scale(0.34) translate(-35.6 -108.4)"/></g><ellipse cx="35.8" cy="108.6" rx="0.7" ry="0.6" fill="#fff" stroke="none" stroke-width="0" filter="url(#b0)"/><ellipse cx="36.3" cy="120.2" rx="0.8" ry="1.0" fill="#fff" stroke="none" stroke-width="0" filter="url(#b0)"/><path d="M36.4 90 L37.5 94.5 L35.3 94.5 Z M36.4 96.5 L37.7 101 L35.1 101 Z" fill="#fff" filter="url(#b0)"/>
<rect x="12.6" y="81.5" width="46.4" height="45.7" fill="none" stroke="#a4a4a4" stroke-width="0.65" />
<line x1="13.2" y1="127.35" x2="22.9" y2="127.35" stroke="#3a3a3a" stroke-width="0.85" />
<line x1="25.1" y1="127.35" x2="32.2" y2="127.35" stroke="#585858" stroke-width="0.75" />
<line x1="34.9" y1="127.35" x2="43.4" y2="127.35" stroke="#585858" stroke-width="0.75" />
<line x1="45.6" y1="127.35" x2="53.2" y2="127.35" stroke="#585858" stroke-width="0.75" />
<line x1="55.3" y1="127.35" x2="58.0" y2="127.35" stroke="#585858" stroke-width="0.75" />
<line x1="12.5" y1="119.7" x2="12.5" y2="127.5" stroke="#4a4a4a" stroke-width="0.85" />
<line x1="12.5" y1="110.2" x2="12.5" y2="117.6" stroke="#7a7a7a" stroke-width="0.7" />
<line x1="12.5" y1="99.2" x2="12.5" y2="107.8" stroke="#7a7a7a" stroke-width="0.7" />
<line x1="12.5" y1="89.6" x2="12.5" y2="97.0" stroke="#7a7a7a" stroke-width="0.7" />
<line x1="12.5" y1="84.2" x2="12.5" y2="87.4" stroke="#7a7a7a" stroke-width="0.7" />
<text x="18.0" y="131.0" font-size="3.2" font-weight="bold" fill="#111" text-anchor="middle" stroke="#111" stroke-width="0.12">0</text>
<text x="21.9" y="131.0" font-size="3.2" font-weight="bold" fill="#111" text-anchor="middle" stroke="#111" stroke-width="0.12">10²</text>
<text x="33.8" y="131.0" font-size="3.2" font-weight="bold" fill="#111" text-anchor="middle" stroke="#111" stroke-width="0.12">10³</text>
<text x="44.6" y="131.0" font-size="3.2" font-weight="bold" fill="#111" text-anchor="middle" stroke="#111" stroke-width="0.12">10⁴</text>
<text x="54.6" y="131.0" font-size="3.2" font-weight="bold" fill="#111" text-anchor="middle" stroke="#111" stroke-width="0.12">10⁵</text>
<text x="11.4" y="85.7" font-size="2.8" font-weight="bold" fill="#3a3a3a" text-anchor="end" transform="rotate(-20 11.4 85.7)" >10⁵</text>
<text x="11.4" y="95.8" font-size="2.8" font-weight="bold" fill="#3a3a3a" text-anchor="end" transform="rotate(-20 11.4 95.8)" >10⁴</text>
<text x="11.4" y="108.1" font-size="2.8" font-weight="bold" fill="#3a3a3a" text-anchor="end" transform="rotate(-20 11.4 108.1)" >10³</text>
<text x="11.4" y="117.1" font-size="2.8" font-weight="bold" fill="#3a3a3a" text-anchor="end" transform="rotate(-20 11.4 117.1)" >10²</text>
<text x="11.4" y="122.6" font-size="2.8" font-weight="bold" fill="#3a3a3a" text-anchor="end" transform="rotate(-20 11.4 122.6)" >0</text>
<text x="14.1" y="87.1" font-size="4.85" font-weight="bold" fill="#000" text-anchor="start" stroke="#000" stroke-width="0.14" >0</text>
<text x="57.4" y="87.1" font-size="4.85" font-weight="bold" fill="#000" text-anchor="end" stroke="#000" stroke-width="0.14" >16.8</text>
<text x="14.1" y="124.6" font-size="4.85" font-weight="bold" fill="#000" text-anchor="start" stroke="#000" stroke-width="0.14" >0.3</text>
<text x="57.4" y="124.6" font-size="4.85" font-weight="bold" fill="#000" text-anchor="end" stroke="#000" stroke-width="0.14" >82.8</text>
<line x1="143.0" y1="82.4" x2="143.0" y2="126.8" stroke="#b0b0b0" stroke-width="0.55" />
<line x1="127.0" y1="110.2" x2="172.5" y2="110.2" stroke="#b0b0b0" stroke-width="0.55" />
<g filter="url(#b2)"><path d="M143.2 110.4 Q143 107.6 147 107.6 L155 107.4 Q157.6 107.6 157.4 111 L156.2 119 Q154.4 123.4 150.6 123 Q146 122.2 144.4 117 Z" fill="#ececec" stroke="#444" stroke-width="0.34" vector-effect="non-scaling-stroke" transform="translate(150.8 111.2) scale(1) translate(-150.8 -111.2)"/><path d="M143.2 110.4 Q143 107.6 147 107.6 L155 107.4 Q157.6 107.6 157.4 111 L156.2 119 Q154.4 123.4 150.6 123 Q146 122.2 144.4 117 Z" fill="#d6d6d6" stroke="#444" stroke-width="0.34" vector-effect="non-scaling-stroke" transform="translate(150.8 111.2) scale(0.9) translate(-150.8 -111.2)"/><path d="M143.2 110.4 Q143 107.6 147 107.6 L155 107.4 Q157.6 107.6 157.4 111 L156.2 119 Q154.4 123.4 150.6 123 Q146 122.2 144.4 117 Z" fill="#bcbcbc" stroke="#444" stroke-width="0.34" vector-effect="non-scaling-stroke" transform="translate(150.8 111.2) scale(0.8) translate(-150.8 -111.2)"/><path d="M143.2 110.4 Q143 107.6 147 107.6 L155 107.4 Q157.6 107.6 157.4 111 L156.2 119 Q154.4 123.4 150.6 123 Q146 122.2 144.4 117 Z" fill="#a0a0a0" stroke="#444" stroke-width="0.34" vector-effect="non-scaling-stroke" transform="translate(150.8 111.2) scale(0.7) translate(-150.8 -111.2)"/><path d="M143.2 110.4 Q143 107.6 147 107.6 L155 107.4 Q157.6 107.6 157.4 111 L156.2 119 Q154.4 123.4 150.6 123 Q146 122.2 144.4 117 Z" fill="#888" stroke="#444" stroke-width="0.34" vector-effect="non-scaling-stroke" transform="translate(150.8 111.2) scale(0.6) translate(-150.8 -111.2)"/><path d="M143.2 110.4 Q143 107.6 147 107.6 L155 107.4 Q157.6 107.6 157.4 111 L156.2 119 Q154.4 123.4 150.6 123 Q146 122.2 144.4 117 Z" fill="#707070" stroke="#444" stroke-width="0.34" vector-effect="non-scaling-stroke" transform="translate(150.8 111.2) scale(0.5) translate(-150.8 -111.2)"/><path d="M143.2 110.4 Q143 107.6 147 107.6 L155 107.4 Q157.6 107.6 157.4 111 L156.2 119 Q154.4 123.4 150.6 123 Q146 122.2 144.4 117 Z" fill="#606060" stroke="#444" stroke-width="0.34" vector-effect="non-scaling-stroke" transform="translate(150.8 111.2) scale(0.4) translate(-150.8 -111.2)"/><path d="M143.2 110.4 Q143 107.6 147 107.6 L155 107.4 Q157.6 107.6 157.4 111 L156.2 119 Q154.4 123.4 150.6 123 Q146 122.2 144.4 117 Z" fill="#505050" stroke="#444" stroke-width="0.34" vector-effect="non-scaling-stroke" transform="translate(150.8 111.2) scale(0.28) translate(-150.8 -111.2)"/></g><g filter="url(#b2)"><path d="M157.0 111.8 L156.87 113.08 L156.5 113.92 L155.87 114.59 L155.01 115.12 L153.9 115.5 L152.5 115.72 L150.4 115.8 L148.3 115.72 L146.9 115.5 L145.79 115.12 L144.93 114.59 L144.3 113.92 L143.93 113.08 L143.8 111.8 L143.93 110.52 L144.3 109.68 L144.93 109.01 L145.79 108.48 L146.9 108.1 L148.3 107.88 L150.4 107.8 L152.5 107.88 L153.9 108.1 L155.01 108.48 L155.87 109.01 L156.5 109.68 L156.87 110.52 Z" fill="#787878" stroke="#2c2c2c" stroke-width="0.34" vector-effect="non-scaling-stroke" transform="translate(151 112.2) scale(1) translate(-151 -112.2)"/><path d="M157.0 111.8 L156.87 113.08 L156.5 113.92 L155.87 114.59 L155.01 115.12 L153.9 115.5 L152.5 115.72 L150.4 115.8 L148.3 115.72 L146.9 115.5 L145.79 115.12 L144.93 114.59 L144.3 113.92 L143.93 113.08 L143.8 111.8 L143.93 110.52 L144.3 109.68 L144.93 109.01 L145.79 108.48 L146.9 108.1 L148.3 107.88 L150.4 107.8 L152.5 107.88 L153.9 108.1 L155.01 108.48 L155.87 109.01 L156.5 109.68 L156.87 110.52 Z" fill="#565656" stroke="#2c2c2c" stroke-width="0.34" vector-effect="non-scaling-stroke" transform="translate(151 112.2) scale(0.9) translate(-151 -112.2)"/><path d="M157.0 111.8 L156.87 113.08 L156.5 113.92 L155.87 114.59 L155.01 115.12 L153.9 115.5 L152.5 115.72 L150.4 115.8 L148.3 115.72 L146.9 115.5 L145.79 115.12 L144.93 114.59 L144.3 113.92 L143.93 113.08 L143.8 111.8 L143.93 110.52 L144.3 109.68 L144.93 109.01 L145.79 108.48 L146.9 108.1 L148.3 107.88 L150.4 107.8 L152.5 107.88 L153.9 108.1 L155.01 108.48 L155.87 109.01 L156.5 109.68 L156.87 110.52 Z" fill="#383838" stroke="#2c2c2c" stroke-width="0.34" vector-effect="non-scaling-stroke" transform="translate(151 112.2) scale(0.8) translate(-151 -112.2)"/><path d="M157.0 111.8 L156.87 113.08 L156.5 113.92 L155.87 114.59 L155.01 115.12 L153.9 115.5 L152.5 115.72 L150.4 115.8 L148.3 115.72 L146.9 115.5 L145.79 115.12 L144.93 114.59 L144.3 113.92 L143.93 113.08 L143.8 111.8 L143.93 110.52 L144.3 109.68 L144.93 109.01 L145.79 108.48 L146.9 108.1 L148.3 107.88 L150.4 107.8 L152.5 107.88 L153.9 108.1 L155.01 108.48 L155.87 109.01 L156.5 109.68 L156.87 110.52 Z" fill="#1e1e1e" stroke="#2c2c2c" stroke-width="0.34" vector-effect="non-scaling-stroke" transform="translate(151 112.2) scale(0.68) translate(-151 -112.2)"/><path d="M157.0 111.8 L156.87 113.08 L156.5 113.92 L155.87 114.59 L155.01 115.12 L153.9 115.5 L152.5 115.72 L150.4 115.8 L148.3 115.72 L146.9 115.5 L145.79 115.12 L144.93 114.59 L144.3 113.92 L143.93 113.08 L143.8 111.8 L143.93 110.52 L144.3 109.68 L144.93 109.01 L145.79 108.48 L146.9 108.1 L148.3 107.88 L150.4 107.8 L152.5 107.88 L153.9 108.1 L155.01 108.48 L155.87 109.01 L156.5 109.68 L156.87 110.52 Z" fill="#0a0a0a" stroke="#2c2c2c" stroke-width="0.34" vector-effect="non-scaling-stroke" transform="translate(151 112.2) scale(0.54) translate(-151 -112.2)"/><path d="M157.0 111.8 L156.87 113.08 L156.5 113.92 L155.87 114.59 L155.01 115.12 L153.9 115.5 L152.5 115.72 L150.4 115.8 L148.3 115.72 L146.9 115.5 L145.79 115.12 L144.93 114.59 L144.3 113.92 L143.93 113.08 L143.8 111.8 L143.93 110.52 L144.3 109.68 L144.93 109.01 L145.79 108.48 L146.9 108.1 L148.3 107.88 L150.4 107.8 L152.5 107.88 L153.9 108.1 L155.01 108.48 L155.87 109.01 L156.5 109.68 L156.87 110.52 Z" fill="#000" stroke="#2c2c2c" stroke-width="0.34" vector-effect="non-scaling-stroke" transform="translate(151 112.2) scale(0.4) translate(-151 -112.2)"/></g><ellipse cx="151.5" cy="112.4" rx="0.7" ry="0.6" fill="#fff" stroke="none" stroke-width="0" filter="url(#b0)"/><ellipse cx="150.8" cy="121.8" rx="1.2" ry="0.5" fill="#fff" stroke="none" stroke-width="0" filter="url(#b0)"/>
<rect x="127.0" y="82.4" width="45.5" height="44.39999999999999" fill="none" stroke="#a4a4a4" stroke-width="0.65" />
<line x1="127.6" y1="126.95" x2="137.3" y2="126.95" stroke="#3a3a3a" stroke-width="0.85" />
<line x1="139.5" y1="126.95" x2="146.6" y2="126.95" stroke="#585858" stroke-width="0.75" />
<line x1="149.3" y1="126.95" x2="157.8" y2="126.95" stroke="#585858" stroke-width="0.75" />
<line x1="160.0" y1="126.95" x2="167.6" y2="126.95" stroke="#585858" stroke-width="0.75" />
<line x1="169.7" y1="126.95" x2="172.4" y2="126.95" stroke="#585858" stroke-width="0.75" />
<line x1="126.9" y1="119.3" x2="126.9" y2="127.1" stroke="#4a4a4a" stroke-width="0.85" />
<line x1="126.9" y1="109.8" x2="126.9" y2="117.2" stroke="#7a7a7a" stroke-width="0.7" />
<line x1="126.9" y1="98.8" x2="126.9" y2="107.4" stroke="#7a7a7a" stroke-width="0.7" />
<line x1="126.9" y1="89.2" x2="126.9" y2="96.6" stroke="#7a7a7a" stroke-width="0.7" />
<line x1="126.9" y1="83.8" x2="126.9" y2="87.0" stroke="#7a7a7a" stroke-width="0.7" />
<text x="132.4" y="130.6" font-size="3.2" font-weight="bold" fill="#111" text-anchor="middle" stroke="#111" stroke-width="0.12">0</text>
<text x="136.3" y="130.6" font-size="3.2" font-weight="bold" fill="#111" text-anchor="middle" stroke="#111" stroke-width="0.12">10²</text>
<text x="148.2" y="130.6" font-size="3.2" font-weight="bold" fill="#111" text-anchor="middle" stroke="#111" stroke-width="0.12">10³</text>
<text x="159.0" y="130.6" font-size="3.2" font-weight="bold" fill="#111" text-anchor="middle" stroke="#111" stroke-width="0.12">10⁴</text>
<text x="169.0" y="130.6" font-size="3.2" font-weight="bold" fill="#111" text-anchor="middle" stroke="#111" stroke-width="0.12">10⁵</text>
<text x="125.8" y="86.6" font-size="2.8" font-weight="bold" fill="#3a3a3a" text-anchor="end" transform="rotate(-20 125.8 86.6)" >10⁵</text>
<text x="125.8" y="96.7" font-size="2.8" font-weight="bold" fill="#3a3a3a" text-anchor="end" transform="rotate(-20 125.8 96.7)" >10⁴</text>
<text x="125.8" y="109.0" font-size="2.8" font-weight="bold" fill="#3a3a3a" text-anchor="end" transform="rotate(-20 125.8 109.0)" >10³</text>
<text x="125.8" y="118.0" font-size="2.8" font-weight="bold" fill="#3a3a3a" text-anchor="end" transform="rotate(-20 125.8 118.0)" >10²</text>
<text x="125.8" y="123.5" font-size="2.8" font-weight="bold" fill="#3a3a3a" text-anchor="end" transform="rotate(-20 125.8 123.5)" >0</text>
<text x="128.9" y="87.9" font-size="5.5" font-weight="bold" fill="#000" text-anchor="start" stroke="#000" stroke-width="0.14" >0</text>
<text x="170.9" y="87.9" font-size="5.5" font-weight="bold" fill="#000" text-anchor="end" stroke="#000" stroke-width="0.14" >12</text>
<text x="128.9" y="125.2" font-size="4.9" font-weight="bold" fill="#000" text-anchor="start" stroke="#000" stroke-width="0.14" >0</text>
<text x="170.9" y="125.2" font-size="4.9" font-weight="bold" fill="#000" text-anchor="end" stroke="#000" stroke-width="0.14" >88</text>
<line x1="78.5" y1="81.5" x2="78.5" y2="127.2" stroke="#b0b0b0" stroke-width="0.55" />
<line x1="64.7" y1="102.0" x2="111.0" y2="102.0" stroke="#b0b0b0" stroke-width="0.55" />
<g filter="url(#b2)"><path d="M79.0 90 Q79.2 84.8 86.6 84.6 Q94.2 84.8 94.4 90 L94.2 104 Q93.8 111 89.6 113.8 Q86.8 115.2 84 113.6 Q79.6 110.6 79.2 104 Z" fill="#eeeeee" stroke="#2c2c2c" stroke-width="0.34" vector-effect="non-scaling-stroke" transform="translate(86.7 97) scale(1) translate(-86.7 -97)"/><path d="M79.0 90 Q79.2 84.8 86.6 84.6 Q94.2 84.8 94.4 90 L94.2 104 Q93.8 111 89.6 113.8 Q86.8 115.2 84 113.6 Q79.6 110.6 79.2 104 Z" fill="#dadada" stroke="#2c2c2c" stroke-width="0.34" vector-effect="non-scaling-stroke" transform="translate(86.7 97) scale(0.9) translate(-86.7 -97)"/><path d="M79.0 90 Q79.2 84.8 86.6 84.6 Q94.2 84.8 94.4 90 L94.2 104 Q93.8 111 89.6 113.8 Q86.8 115.2 84 113.6 Q79.6 110.6 79.2 104 Z" fill="#bebebe" stroke="#2c2c2c" stroke-width="0.34" vector-effect="non-scaling-stroke" transform="translate(86.7 97) scale(0.8) translate(-86.7 -97)"/><path d="M79.0 90 Q79.2 84.8 86.6 84.6 Q94.2 84.8 94.4 90 L94.2 104 Q93.8 111 89.6 113.8 Q86.8 115.2 84 113.6 Q79.6 110.6 79.2 104 Z" fill="#929292" stroke="#2c2c2c" stroke-width="0.34" vector-effect="non-scaling-stroke" transform="translate(86.7 97) scale(0.7) translate(-86.7 -97)"/><path d="M79.0 90 Q79.2 84.8 86.6 84.6 Q94.2 84.8 94.4 90 L94.2 104 Q93.8 111 89.6 113.8 Q86.8 115.2 84 113.6 Q79.6 110.6 79.2 104 Z" fill="#484848" stroke="#2c2c2c" stroke-width="0.34" vector-effect="non-scaling-stroke" transform="translate(86.7 97) scale(0.6) translate(-86.7 -97)"/><path d="M79.0 90 Q79.2 84.8 86.6 84.6 Q94.2 84.8 94.4 90 L94.2 104 Q93.8 111 89.6 113.8 Q86.8 115.2 84 113.6 Q79.6 110.6 79.2 104 Z" fill="#1a1a1a" stroke="#2c2c2c" stroke-width="0.34" vector-effect="non-scaling-stroke" transform="translate(86.7 97) scale(0.5) translate(-86.7 -97)"/><path d="M79.0 90 Q79.2 84.8 86.6 84.6 Q94.2 84.8 94.4 90 L94.2 104 Q93.8 111 89.6 113.8 Q86.8 115.2 84 113.6 Q79.6 110.6 79.2 104 Z" fill="#000" stroke="#2c2c2c" stroke-width="0.34" vector-effect="non-scaling-stroke" transform="translate(86.7 97) scale(0.38) translate(-86.7 -97)"/><path d="M79.0 90 Q79.2 84.8 86.6 84.6 Q94.2 84.8 94.4 90 L94.2 104 Q93.8 111 89.6 113.8 Q86.8 115.2 84 113.6 Q79.6 110.6 79.2 104 Z" fill="#484848" stroke="#2c2c2c" stroke-width="0.34" vector-effect="non-scaling-stroke" transform="translate(86.7 97) scale(0.2) translate(-86.7 -97)"/></g><ellipse cx="86.6" cy="92" rx="0.7" ry="2.0" fill="#fff" stroke="none" stroke-width="0" filter="url(#b0)"/><ellipse cx="87" cy="103.2" rx="0.6" ry="1.1" fill="#fff" stroke="none" stroke-width="0" filter="url(#b0)"/>
<rect x="64.7" y="81.5" width="46.3" height="45.7" fill="none" stroke="#a4a4a4" stroke-width="0.65" />
<line x1="65.3" y1="127.35" x2="75.0" y2="127.35" stroke="#3a3a3a" stroke-width="0.85" />
<line x1="77.2" y1="127.35" x2="84.3" y2="127.35" stroke="#585858" stroke-width="0.75" />
<line x1="87.0" y1="127.35" x2="95.5" y2="127.35" stroke="#585858" stroke-width="0.75" />
<line x1="97.7" y1="127.35" x2="105.3" y2="127.35" stroke="#585858" stroke-width="0.75" />
<line x1="107.4" y1="127.35" x2="110.1" y2="127.35" stroke="#585858" stroke-width="0.75" />
<line x1="64.6" y1="119.7" x2="64.6" y2="127.5" stroke="#4a4a4a" stroke-width="0.85" />
<line x1="64.6" y1="110.2" x2="64.6" y2="117.6" stroke="#7a7a7a" stroke-width="0.7" />
<line x1="64.6" y1="99.2" x2="64.6" y2="107.8" stroke="#7a7a7a" stroke-width="0.7" />
<line x1="64.6" y1="89.6" x2="64.6" y2="97.0" stroke="#7a7a7a" stroke-width="0.7" />
<line x1="64.6" y1="84.2" x2="64.6" y2="87.4" stroke="#7a7a7a" stroke-width="0.7" />
<text x="70.1" y="131.0" font-size="3.2" font-weight="bold" fill="#111" text-anchor="middle" stroke="#111" stroke-width="0.12">0</text>
<text x="74.0" y="131.0" font-size="3.2" font-weight="bold" fill="#111" text-anchor="middle" stroke="#111" stroke-width="0.12">10²</text>
<text x="85.9" y="131.0" font-size="3.2" font-weight="bold" fill="#111" text-anchor="middle" stroke="#111" stroke-width="0.12">10³</text>
<text x="96.7" y="131.0" font-size="3.2" font-weight="bold" fill="#111" text-anchor="middle" stroke="#111" stroke-width="0.12">10⁴</text>
<text x="106.7" y="131.0" font-size="3.2" font-weight="bold" fill="#111" text-anchor="middle" stroke="#111" stroke-width="0.12">10⁵</text>
<text x="63.5" y="85.7" font-size="2.8" font-weight="bold" fill="#3a3a3a" text-anchor="end" transform="rotate(-20 63.5 85.7)" >10⁵</text>
<text x="63.5" y="95.8" font-size="2.8" font-weight="bold" fill="#3a3a3a" text-anchor="end" transform="rotate(-20 63.5 95.8)" >10⁴</text>
<text x="63.5" y="108.1" font-size="2.8" font-weight="bold" fill="#3a3a3a" text-anchor="end" transform="rotate(-20 63.5 108.1)" >10³</text>
<text x="63.5" y="117.1" font-size="2.8" font-weight="bold" fill="#3a3a3a" text-anchor="end" transform="rotate(-20 63.5 117.1)" >10²</text>
<text x="63.5" y="122.6" font-size="2.8" font-weight="bold" fill="#3a3a3a" text-anchor="end" transform="rotate(-20 63.5 122.6)" >0</text>
<text x="66.2" y="87.1" font-size="4.85" font-weight="bold" fill="#000" text-anchor="start" stroke="#000" stroke-width="0.14" >0.2</text>
<text x="110.3" y="87.1" font-size="4.85" font-weight="bold" fill="#000" text-anchor="end" stroke="#000" stroke-width="0.14" >67.5</text>
<text x="66.2" y="124.6" font-size="4.85" font-weight="bold" fill="#000" text-anchor="start" stroke="#000" stroke-width="0.14" >0.1</text>
<text x="110.3" y="124.6" font-size="4.85" font-weight="bold" fill="#000" text-anchor="end" stroke="#000" stroke-width="0.14" >32.2</text>
<line x1="197.0" y1="82.4" x2="197.0" y2="126.8" stroke="#b0b0b0" stroke-width="0.55" />
<line x1="178.4" y1="112.5" x2="225.3" y2="112.5" stroke="#b0b0b0" stroke-width="0.55" />
<g filter="url(#b2)"><path d="M206.62 110.49 L207.77 111.4 L208.52 112.43 L208.95 113.61 L209.07 114.92 L208.88 116.33 L208.38 117.83 L207.46 119.51 L206.35 121.07 L205.23 122.18 L204.04 122.97 L202.8 123.44 L201.55 123.57 L200.31 123.35 L198.98 122.71 L197.83 121.8 L197.08 120.77 L196.65 119.59 L196.53 118.28 L196.72 116.87 L197.22 115.37 L198.14 113.69 L199.25 112.13 L200.37 111.02 L201.56 110.23 L202.8 109.76 L204.05 109.63 L205.29 109.85 Z" fill="#cfcfcf" stroke="#2c2c2c" stroke-width="0.34" vector-effect="non-scaling-stroke" transform="translate(202.8 116.6) scale(1) translate(-202.8 -116.6)"/><path d="M206.62 110.49 L207.77 111.4 L208.52 112.43 L208.95 113.61 L209.07 114.92 L208.88 116.33 L208.38 117.83 L207.46 119.51 L206.35 121.07 L205.23 122.18 L204.04 122.97 L202.8 123.44 L201.55 123.57 L200.31 123.35 L198.98 122.71 L197.83 121.8 L197.08 120.77 L196.65 119.59 L196.53 118.28 L196.72 116.87 L197.22 115.37 L198.14 113.69 L199.25 112.13 L200.37 111.02 L201.56 110.23 L202.8 109.76 L204.05 109.63 L205.29 109.85 Z" fill="#8a8a8a" stroke="#2c2c2c" stroke-width="0.34" vector-effect="non-scaling-stroke" transform="translate(202.8 116.6) scale(0.9) translate(-202.8 -116.6)"/><path d="M206.62 110.49 L207.77 111.4 L208.52 112.43 L208.95 113.61 L209.07 114.92 L208.88 116.33 L208.38 117.83 L207.46 119.51 L206.35 121.07 L205.23 122.18 L204.04 122.97 L202.8 123.44 L201.55 123.57 L200.31 123.35 L198.98 122.71 L197.83 121.8 L197.08 120.77 L196.65 119.59 L196.53 118.28 L196.72 116.87 L197.22 115.37 L198.14 113.69 L199.25 112.13 L200.37 111.02 L201.56 110.23 L202.8 109.76 L204.05 109.63 L205.29 109.85 Z" fill="#4a4a4a" stroke="#2c2c2c" stroke-width="0.34" vector-effect="non-scaling-stroke" transform="translate(202.8 116.6) scale(0.8) translate(-202.8 -116.6)"/><path d="M206.62 110.49 L207.77 111.4 L208.52 112.43 L208.95 113.61 L209.07 114.92 L208.88 116.33 L208.38 117.83 L207.46 119.51 L206.35 121.07 L205.23 122.18 L204.04 122.97 L202.8 123.44 L201.55 123.57 L200.31 123.35 L198.98 122.71 L197.83 121.8 L197.08 120.77 L196.65 119.59 L196.53 118.28 L196.72 116.87 L197.22 115.37 L198.14 113.69 L199.25 112.13 L200.37 111.02 L201.56 110.23 L202.8 109.76 L204.05 109.63 L205.29 109.85 Z" fill="#222" stroke="#2c2c2c" stroke-width="0.34" vector-effect="non-scaling-stroke" transform="translate(202.8 116.6) scale(0.7) translate(-202.8 -116.6)"/><path d="M206.62 110.49 L207.77 111.4 L208.52 112.43 L208.95 113.61 L209.07 114.92 L208.88 116.33 L208.38 117.83 L207.46 119.51 L206.35 121.07 L205.23 122.18 L204.04 122.97 L202.8 123.44 L201.55 123.57 L200.31 123.35 L198.98 122.71 L197.83 121.8 L197.08 120.77 L196.65 119.59 L196.53 118.28 L196.72 116.87 L197.22 115.37 L198.14 113.69 L199.25 112.13 L200.37 111.02 L201.56 110.23 L202.8 109.76 L204.05 109.63 L205.29 109.85 Z" fill="#0a0a0a" stroke="#2c2c2c" stroke-width="0.34" vector-effect="non-scaling-stroke" transform="translate(202.8 116.6) scale(0.58) translate(-202.8 -116.6)"/><path d="M206.62 110.49 L207.77 111.4 L208.52 112.43 L208.95 113.61 L209.07 114.92 L208.88 116.33 L208.38 117.83 L207.46 119.51 L206.35 121.07 L205.23 122.18 L204.04 122.97 L202.8 123.44 L201.55 123.57 L200.31 123.35 L198.98 122.71 L197.83 121.8 L197.08 120.77 L196.65 119.59 L196.53 118.28 L196.72 116.87 L197.22 115.37 L198.14 113.69 L199.25 112.13 L200.37 111.02 L201.56 110.23 L202.8 109.76 L204.05 109.63 L205.29 109.85 Z" fill="#000" stroke="#2c2c2c" stroke-width="0.34" vector-effect="non-scaling-stroke" transform="translate(202.8 116.6) scale(0.46) translate(-202.8 -116.6)"/></g><ellipse cx="203.1" cy="116.4" rx="2.4" ry="0.55" fill="#fff" stroke="none" stroke-width="0" transform="rotate(-58 203.1 116.4)" filter="url(#b0)"/>
<rect x="178.4" y="82.4" width="46.900000000000006" height="44.39999999999999" fill="none" stroke="#a4a4a4" stroke-width="0.65" />
<line x1="179.0" y1="126.95" x2="188.70000000000002" y2="126.95" stroke="#3a3a3a" stroke-width="0.85" />
<line x1="190.9" y1="126.95" x2="198.0" y2="126.95" stroke="#585858" stroke-width="0.75" />
<line x1="200.7" y1="126.95" x2="209.2" y2="126.95" stroke="#585858" stroke-width="0.75" />
<line x1="211.4" y1="126.95" x2="219.0" y2="126.95" stroke="#585858" stroke-width="0.75" />
<line x1="221.1" y1="126.95" x2="223.8" y2="126.95" stroke="#585858" stroke-width="0.75" />
<line x1="178.3" y1="119.3" x2="178.3" y2="127.1" stroke="#4a4a4a" stroke-width="0.85" />
<line x1="178.3" y1="109.8" x2="178.3" y2="117.2" stroke="#7a7a7a" stroke-width="0.7" />
<line x1="178.3" y1="98.8" x2="178.3" y2="107.4" stroke="#7a7a7a" stroke-width="0.7" />
<line x1="178.3" y1="89.2" x2="178.3" y2="96.6" stroke="#7a7a7a" stroke-width="0.7" />
<line x1="178.3" y1="83.8" x2="178.3" y2="87.0" stroke="#7a7a7a" stroke-width="0.7" />
<text x="183.8" y="130.6" font-size="3.2" font-weight="bold" fill="#111" text-anchor="middle" stroke="#111" stroke-width="0.12">0</text>
<text x="187.7" y="130.6" font-size="3.2" font-weight="bold" fill="#111" text-anchor="middle" stroke="#111" stroke-width="0.12">10²</text>
<text x="199.6" y="130.6" font-size="3.2" font-weight="bold" fill="#111" text-anchor="middle" stroke="#111" stroke-width="0.12">10³</text>
<text x="210.4" y="130.6" font-size="3.2" font-weight="bold" fill="#111" text-anchor="middle" stroke="#111" stroke-width="0.12">10⁴</text>
<text x="220.4" y="130.6" font-size="3.2" font-weight="bold" fill="#111" text-anchor="middle" stroke="#111" stroke-width="0.12">10⁵</text>
<text x="177.2" y="86.6" font-size="2.8" font-weight="bold" fill="#3a3a3a" text-anchor="end" transform="rotate(-20 177.2 86.6)" >10⁵</text>
<text x="177.2" y="96.7" font-size="2.8" font-weight="bold" fill="#3a3a3a" text-anchor="end" transform="rotate(-20 177.2 96.7)" >10⁴</text>
<text x="177.2" y="109.0" font-size="2.8" font-weight="bold" fill="#3a3a3a" text-anchor="end" transform="rotate(-20 177.2 109.0)" >10³</text>
<text x="177.2" y="118.0" font-size="2.8" font-weight="bold" fill="#3a3a3a" text-anchor="end" transform="rotate(-20 177.2 118.0)" >10²</text>
<text x="177.2" y="123.5" font-size="2.8" font-weight="bold" fill="#3a3a3a" text-anchor="end" transform="rotate(-20 177.2 123.5)" >0</text>
<text x="180.3" y="87.9" font-size="5.5" font-weight="bold" fill="#000" text-anchor="start" stroke="#000" stroke-width="0.14" >0</text>
<text x="224.2" y="87.9" font-size="5.5" font-weight="bold" fill="#000" text-anchor="end" stroke="#000" stroke-width="0.14" >2.7</text>
<text x="180.3" y="125.2" font-size="4.9" font-weight="bold" fill="#000" text-anchor="start" stroke="#000" stroke-width="0.14" >0</text>
<text x="224.2" y="125.2" font-size="4.9" font-weight="bold" fill="#000" text-anchor="end" stroke="#000" stroke-width="0.14" >97.3</text>
<line x1="27.8" y1="131.6" x2="27.8" y2="176.4" stroke="#b0b0b0" stroke-width="0.55" />
<line x1="12.6" y1="152.5" x2="59.0" y2="152.5" stroke="#b0b0b0" stroke-width="0.55" />
<g filter="url(#b2)"><path d="M31.9 153.4 C31.99 148.19 32.82 145 36.5 145 C40.18 145 41.01 148.19 41.1 153.4 Z" fill="#f6f6f6" stroke="#5a5a5a" stroke-width="0.38" vector-effect="non-scaling-stroke" transform="translate(36.5 153.4) scale(1) translate(-36.5 -153.4)"/><path d="M31.9 153.4 C31.99 148.19 32.82 145 36.5 145 C40.18 145 41.01 148.19 41.1 153.4 Z" fill="#efefef" stroke="#5a5a5a" stroke-width="0.38" vector-effect="non-scaling-stroke" transform="translate(36.5 153.4) scale(0.84) translate(-36.5 -153.4)"/><path d="M31.9 153.4 C31.99 148.19 32.82 145 36.5 145 C40.18 145 41.01 148.19 41.1 153.4 Z" fill="#e8e8e8" stroke="#5a5a5a" stroke-width="0.38" vector-effect="non-scaling-stroke" transform="translate(36.5 153.4) scale(0.68) translate(-36.5 -153.4)"/><path d="M31.9 153.4 C31.99 148.19 32.82 145 36.5 145 C40.18 145 41.01 148.19 41.1 153.4 Z" fill="#fff" stroke="#5a5a5a" stroke-width="0.38" vector-effect="non-scaling-stroke" transform="translate(36.5 153.4) scale(0.52) translate(-36.5 -153.4)"/><path d="M31.9 153.4 C31.99 148.19 32.82 145 36.5 145 C40.18 145 41.01 148.19 41.1 153.4 Z" fill="#fff" stroke="#5a5a5a" stroke-width="0.38" vector-effect="non-scaling-stroke" transform="translate(36.5 153.4) scale(0.3) translate(-36.5 -153.4)"/></g><g filter="url(#b2)"><path d="M27.4 158 Q27.4 153 32 152.8 L40 152.6 Q43.4 153 43.2 158 Q43 164 40 168.4 L37.4 172.8 Q36.4 174 35.4 172.6 L31 166.6 Q27.4 162 27.4 158 Z" fill="#e8e8e8" stroke="#555" stroke-width="0.34" vector-effect="non-scaling-stroke" transform="translate(36 161) scale(1) translate(-36 -161)"/><path d="M27.4 158 Q27.4 153 32 152.8 L40 152.6 Q43.4 153 43.2 158 Q43 164 40 168.4 L37.4 172.8 Q36.4 174 35.4 172.6 L31 166.6 Q27.4 162 27.4 158 Z" fill="#cfcfcf" stroke="#555" stroke-width="0.34" vector-effect="non-scaling-stroke" transform="translate(36 161) scale(0.9) translate(-36 -161)"/><path d="M27.4 158 Q27.4 153 32 152.8 L40 152.6 Q43.4 153 43.2 158 Q43 164 40 168.4 L37.4 172.8 Q36.4 174 35.4 172.6 L31 166.6 Q27.4 162 27.4 158 Z" fill="#b0b0b0" stroke="#555" stroke-width="0.34" vector-effect="non-scaling-stroke" transform="translate(36 161) scale(0.8) translate(-36 -161)"/><path d="M27.4 158 Q27.4 153 32 152.8 L40 152.6 Q43.4 153 43.2 158 Q43 164 40 168.4 L37.4 172.8 Q36.4 174 35.4 172.6 L31 166.6 Q27.4 162 27.4 158 Z" fill="#949494" stroke="#555" stroke-width="0.34" vector-effect="non-scaling-stroke" transform="translate(36 161) scale(0.7) translate(-36 -161)"/></g><g filter="url(#b2)"><path d="M42.4 159.4 L42.26 161.28 L41.83 162.64 L41.13 163.75 L40.16 164.64 L38.94 165.28 L37.45 165.67 L35.4 165.8 L33.35 165.67 L31.86 165.28 L30.64 164.64 L29.67 163.75 L28.97 162.64 L28.54 161.28 L28.4 159.4 L28.54 157.52 L28.97 156.16 L29.67 155.05 L30.64 154.16 L31.86 153.52 L33.35 153.13 L35.4 153.0 L37.45 153.13 L38.94 153.52 L40.16 154.16 L41.13 155.05 L41.83 156.16 L42.26 157.52 Z" fill="#969696" stroke="#2c2c2c" stroke-width="0.34" vector-effect="non-scaling-stroke" transform="translate(35.8 159.8) scale(1) translate(-35.8 -159.8)"/><path d="M42.4 159.4 L42.26 161.28 L41.83 162.64 L41.13 163.75 L40.16 164.64 L38.94 165.28 L37.45 165.67 L35.4 165.8 L33.35 165.67 L31.86 165.28 L30.64 164.64 L29.67 163.75 L28.97 162.64 L28.54 161.28 L28.4 159.4 L28.54 157.52 L28.97 156.16 L29.67 155.05 L30.64 154.16 L31.86 153.52 L33.35 153.13 L35.4 153.0 L37.45 153.13 L38.94 153.52 L40.16 154.16 L41.13 155.05 L41.83 156.16 L42.26 157.52 Z" fill="#747474" stroke="#2c2c2c" stroke-width="0.34" vector-effect="non-scaling-stroke" transform="translate(35.8 159.8) scale(0.9) translate(-35.8 -159.8)"/><path d="M42.4 159.4 L42.26 161.28 L41.83 162.64 L41.13 163.75 L40.16 164.64 L38.94 165.28 L37.45 165.67 L35.4 165.8 L33.35 165.67 L31.86 165.28 L30.64 164.64 L29.67 163.75 L28.97 162.64 L28.54 161.28 L28.4 159.4 L28.54 157.52 L28.97 156.16 L29.67 155.05 L30.64 154.16 L31.86 153.52 L33.35 153.13 L35.4 153.0 L37.45 153.13 L38.94 153.52 L40.16 154.16 L41.13 155.05 L41.83 156.16 L42.26 157.52 Z" fill="#525252" stroke="#2c2c2c" stroke-width="0.34" vector-effect="non-scaling-stroke" transform="translate(35.8 159.8) scale(0.8) translate(-35.8 -159.8)"/><path d="M42.4 159.4 L42.26 161.28 L41.83 162.64 L41.13 163.75 L40.16 164.64 L38.94 165.28 L37.45 165.67 L35.4 165.8 L33.35 165.67 L31.86 165.28 L30.64 164.64 L29.67 163.75 L28.97 162.64 L28.54 161.28 L28.4 159.4 L28.54 157.52 L28.97 156.16 L29.67 155.05 L30.64 154.16 L31.86 153.52 L33.35 153.13 L35.4 153.0 L37.45 153.13 L38.94 153.52 L40.16 154.16 L41.13 155.05 L41.83 156.16 L42.26 157.52 Z" fill="#383838" stroke="#2c2c2c" stroke-width="0.34" vector-effect="non-scaling-stroke" transform="translate(35.8 159.8) scale(0.7) translate(-35.8 -159.8)"/><path d="M42.4 159.4 L42.26 161.28 L41.83 162.64 L41.13 163.75 L40.16 164.64 L38.94 165.28 L37.45 165.67 L35.4 165.8 L33.35 165.67 L31.86 165.28 L30.64 164.64 L29.67 163.75 L28.97 162.64 L28.54 161.28 L28.4 159.4 L28.54 157.52 L28.97 156.16 L29.67 155.05 L30.64 154.16 L31.86 153.52 L33.35 153.13 L35.4 153.0 L37.45 153.13 L38.94 153.52 L40.16 154.16 L41.13 155.05 L41.83 156.16 L42.26 157.52 Z" fill="#222" stroke="#2c2c2c" stroke-width="0.34" vector-effect="non-scaling-stroke" transform="translate(35.8 159.8) scale(0.58) translate(-35.8 -159.8)"/><path d="M42.4 159.4 L42.26 161.28 L41.83 162.64 L41.13 163.75 L40.16 164.64 L38.94 165.28 L37.45 165.67 L35.4 165.8 L33.35 165.67 L31.86 165.28 L30.64 164.64 L29.67 163.75 L28.97 162.64 L28.54 161.28 L28.4 159.4 L28.54 157.52 L28.97 156.16 L29.67 155.05 L30.64 154.16 L31.86 153.52 L33.35 153.13 L35.4 153.0 L37.45 153.13 L38.94 153.52 L40.16 154.16 L41.13 155.05 L41.83 156.16 L42.26 157.52 Z" fill="#101010" stroke="#2c2c2c" stroke-width="0.34" vector-effect="non-scaling-stroke" transform="translate(35.8 159.8) scale(0.44) translate(-35.8 -159.8)"/><path d="M42.4 159.4 L42.26 161.28 L41.83 162.64 L41.13 163.75 L40.16 164.64 L38.94 165.28 L37.45 165.67 L35.4 165.8 L33.35 165.67 L31.86 165.28 L30.64 164.64 L29.67 163.75 L28.97 162.64 L28.54 161.28 L28.4 159.4 L28.54 157.52 L28.97 156.16 L29.67 155.05 L30.64 154.16 L31.86 153.52 L33.35 153.13 L35.4 153.0 L37.45 153.13 L38.94 153.52 L40.16 154.16 L41.13 155.05 L41.83 156.16 L42.26 157.52 Z" fill="#3a3a3a" stroke="#2c2c2c" stroke-width="0.34" vector-effect="non-scaling-stroke" transform="translate(35.8 159.8) scale(0.2) translate(-35.8 -159.8)"/></g><ellipse cx="36.2" cy="160" rx="0.7" ry="0.6" fill="#fff" stroke="none" stroke-width="0" filter="url(#b0)"/><ellipse cx="36.5" cy="171.2" rx="0.7" ry="0.9" fill="#fff" stroke="none" stroke-width="0" filter="url(#b0)"/>
<rect x="12.6" y="131.6" width="46.4" height="44.80000000000001" fill="none" stroke="#a4a4a4" stroke-width="0.65" />
<line x1="13.2" y1="176.55" x2="22.9" y2="176.55" stroke="#3a3a3a" stroke-width="0.85" />
<line x1="25.1" y1="176.55" x2="32.2" y2="176.55" stroke="#9a9a9a" stroke-width="0.75" />
<line x1="34.9" y1="176.55" x2="43.4" y2="176.55" stroke="#9a9a9a" stroke-width="0.75" />
<line x1="45.6" y1="176.55" x2="53.2" y2="176.55" stroke="#9a9a9a" stroke-width="0.75" />
<line x1="55.3" y1="176.55" x2="58.0" y2="176.55" stroke="#9a9a9a" stroke-width="0.75" />
<line x1="12.5" y1="168.9" x2="12.5" y2="176.70000000000002" stroke="#4a4a4a" stroke-width="0.85" />
<line x1="12.5" y1="159.4" x2="12.5" y2="166.8" stroke="#7a7a7a" stroke-width="0.7" />
<line x1="12.5" y1="148.4" x2="12.5" y2="157.0" stroke="#7a7a7a" stroke-width="0.7" />
<line x1="12.5" y1="138.8" x2="12.5" y2="146.2" stroke="#7a7a7a" stroke-width="0.7" />
<line x1="12.5" y1="133.4" x2="12.5" y2="136.6" stroke="#7a7a7a" stroke-width="0.7" />
<text x="18.0" y="180.2" font-size="3.2" font-weight="bold" fill="#8a8a8a" text-anchor="middle" stroke="#8a8a8a" stroke-width="0.12">0</text>
<text x="21.9" y="180.2" font-size="3.2" font-weight="bold" fill="#8a8a8a" text-anchor="middle" stroke="#8a8a8a" stroke-width="0.12">10²</text>
<text x="33.8" y="180.2" font-size="3.2" font-weight="bold" fill="#8a8a8a" text-anchor="middle" stroke="#8a8a8a" stroke-width="0.12">10³</text>
<text x="44.6" y="180.2" font-size="3.2" font-weight="bold" fill="#8a8a8a" text-anchor="middle" stroke="#8a8a8a" stroke-width="0.12">10⁴</text>
<text x="54.6" y="180.2" font-size="3.2" font-weight="bold" fill="#8a8a8a" text-anchor="middle" stroke="#8a8a8a" stroke-width="0.12">10⁵</text>
<text x="11.4" y="135.8" font-size="2.8" font-weight="bold" fill="#666" text-anchor="end" transform="rotate(-20 11.4 135.8)" >10⁵</text>
<text x="11.4" y="145.9" font-size="2.8" font-weight="bold" fill="#666" text-anchor="end" transform="rotate(-20 11.4 145.9)" >10⁴</text>
<text x="11.4" y="158.2" font-size="2.8" font-weight="bold" fill="#666" text-anchor="end" transform="rotate(-20 11.4 158.2)" >10³</text>
<text x="11.4" y="167.2" font-size="2.8" font-weight="bold" fill="#666" text-anchor="end" transform="rotate(-20 11.4 167.2)" >10²</text>
<text x="11.4" y="172.7" font-size="2.8" font-weight="bold" fill="#666" text-anchor="end" transform="rotate(-20 11.4 172.7)" >0</text>
<text transform="translate(14.1 137.1) scale(0.86 1)" font-size="5.9" font-weight="bold" text-anchor="start" stroke="#000" stroke-width="0.14">0</text>
<text transform="translate(58.2 137.1) scale(0.86 1)" font-size="5.9" font-weight="bold" text-anchor="end" stroke="#000" stroke-width="0.14">5.9</text>
<text transform="translate(14.1 175.0) scale(0.86 1)" font-size="5.9" font-weight="bold" text-anchor="start" stroke="#000" stroke-width="0.14">0</text>
<text transform="translate(58.2 175.0) scale(0.86 1)" font-size="5.9" font-weight="bold" text-anchor="end" stroke="#000" stroke-width="0.14">94.1</text>
<line x1="141.1" y1="132.1" x2="141.1" y2="176.7" stroke="#b0b0b0" stroke-width="0.55" />
<line x1="127.0" y1="152.5" x2="172.5" y2="152.5" stroke="#b0b0b0" stroke-width="0.55" />
<g filter="url(#b2)"><path d="M141.8 152 Q142 148.4 148 148.4 Q155.6 148.4 156 152.6 Q156 160 151.4 168.2 Q150 169.6 148.8 168.2 Q142.4 158 141.8 152 Z" fill="#e6e6e6" stroke="#404040" stroke-width="0.34" vector-effect="non-scaling-stroke" transform="translate(149.2 157) scale(1) translate(-149.2 -157)"/><path d="M141.8 152 Q142 148.4 148 148.4 Q155.6 148.4 156 152.6 Q156 160 151.4 168.2 Q150 169.6 148.8 168.2 Q142.4 158 141.8 152 Z" fill="#cccccc" stroke="#404040" stroke-width="0.34" vector-effect="non-scaling-stroke" transform="translate(149.2 157) scale(0.9) translate(-149.2 -157)"/><path d="M141.8 152 Q142 148.4 148 148.4 Q155.6 148.4 156 152.6 Q156 160 151.4 168.2 Q150 169.6 148.8 168.2 Q142.4 158 141.8 152 Z" fill="#acacac" stroke="#404040" stroke-width="0.34" vector-effect="non-scaling-stroke" transform="translate(149.2 157) scale(0.8) translate(-149.2 -157)"/><path d="M141.8 152 Q142 148.4 148 148.4 Q155.6 148.4 156 152.6 Q156 160 151.4 168.2 Q150 169.6 148.8 168.2 Q142.4 158 141.8 152 Z" fill="#8e8e8e" stroke="#404040" stroke-width="0.34" vector-effect="non-scaling-stroke" transform="translate(149.2 157) scale(0.7) translate(-149.2 -157)"/><path d="M141.8 152 Q142 148.4 148 148.4 Q155.6 148.4 156 152.6 Q156 160 151.4 168.2 Q150 169.6 148.8 168.2 Q142.4 158 141.8 152 Z" fill="#767676" stroke="#404040" stroke-width="0.34" vector-effect="non-scaling-stroke" transform="translate(149.2 157) scale(0.6) translate(-149.2 -157)"/></g><g filter="url(#b2)"><path d="M155.2 154.2 L155.07 155.85 L154.7 157.0 L154.07 157.92 L153.21 158.65 L152.12 159.17 L150.76 159.49 L148.8 159.6 L146.84 159.49 L145.48 159.17 L144.39 158.65 L143.53 157.92 L142.9 157.0 L142.53 155.85 L142.4 154.2 L142.53 152.55 L142.9 151.4 L143.53 150.48 L144.39 149.75 L145.48 149.23 L146.84 148.91 L148.8 148.8 L150.76 148.91 L152.12 149.23 L153.21 149.75 L154.07 150.48 L154.7 151.4 L155.07 152.55 Z" fill="#7c7c7c" stroke="#2c2c2c" stroke-width="0.34" vector-effect="non-scaling-stroke" transform="translate(148.9 153.8) scale(1) translate(-148.9 -153.8)"/><path d="M155.2 154.2 L155.07 155.85 L154.7 157.0 L154.07 157.92 L153.21 158.65 L152.12 159.17 L150.76 159.49 L148.8 159.6 L146.84 159.49 L145.48 159.17 L144.39 158.65 L143.53 157.92 L142.9 157.0 L142.53 155.85 L142.4 154.2 L142.53 152.55 L142.9 151.4 L143.53 150.48 L144.39 149.75 L145.48 149.23 L146.84 148.91 L148.8 148.8 L150.76 148.91 L152.12 149.23 L153.21 149.75 L154.07 150.48 L154.7 151.4 L155.07 152.55 Z" fill="#585858" stroke="#2c2c2c" stroke-width="0.34" vector-effect="non-scaling-stroke" transform="translate(148.9 153.8) scale(0.9) translate(-148.9 -153.8)"/><path d="M155.2 154.2 L155.07 155.85 L154.7 157.0 L154.07 157.92 L153.21 158.65 L152.12 159.17 L150.76 159.49 L148.8 159.6 L146.84 159.49 L145.48 159.17 L144.39 158.65 L143.53 157.92 L142.9 157.0 L142.53 155.85 L142.4 154.2 L142.53 152.55 L142.9 151.4 L143.53 150.48 L144.39 149.75 L145.48 149.23 L146.84 148.91 L148.8 148.8 L150.76 148.91 L152.12 149.23 L153.21 149.75 L154.07 150.48 L154.7 151.4 L155.07 152.55 Z" fill="#383838" stroke="#2c2c2c" stroke-width="0.34" vector-effect="non-scaling-stroke" transform="translate(148.9 153.8) scale(0.8) translate(-148.9 -153.8)"/><path d="M155.2 154.2 L155.07 155.85 L154.7 157.0 L154.07 157.92 L153.21 158.65 L152.12 159.17 L150.76 159.49 L148.8 159.6 L146.84 159.49 L145.48 159.17 L144.39 158.65 L143.53 157.92 L142.9 157.0 L142.53 155.85 L142.4 154.2 L142.53 152.55 L142.9 151.4 L143.53 150.48 L144.39 149.75 L145.48 149.23 L146.84 148.91 L148.8 148.8 L150.76 148.91 L152.12 149.23 L153.21 149.75 L154.07 150.48 L154.7 151.4 L155.07 152.55 Z" fill="#1e1e1e" stroke="#2c2c2c" stroke-width="0.34" vector-effect="non-scaling-stroke" transform="translate(148.9 153.8) scale(0.68) translate(-148.9 -153.8)"/><path d="M155.2 154.2 L155.07 155.85 L154.7 157.0 L154.07 157.92 L153.21 158.65 L152.12 159.17 L150.76 159.49 L148.8 159.6 L146.84 159.49 L145.48 159.17 L144.39 158.65 L143.53 157.92 L142.9 157.0 L142.53 155.85 L142.4 154.2 L142.53 152.55 L142.9 151.4 L143.53 150.48 L144.39 149.75 L145.48 149.23 L146.84 148.91 L148.8 148.8 L150.76 148.91 L152.12 149.23 L153.21 149.75 L154.07 150.48 L154.7 151.4 L155.07 152.55 Z" fill="#0a0a0a" stroke="#2c2c2c" stroke-width="0.34" vector-effect="non-scaling-stroke" transform="translate(148.9 153.8) scale(0.54) translate(-148.9 -153.8)"/><path d="M155.2 154.2 L155.07 155.85 L154.7 157.0 L154.07 157.92 L153.21 158.65 L152.12 159.17 L150.76 159.49 L148.8 159.6 L146.84 159.49 L145.48 159.17 L144.39 158.65 L143.53 157.92 L142.9 157.0 L142.53 155.85 L142.4 154.2 L142.53 152.55 L142.9 151.4 L143.53 150.48 L144.39 149.75 L145.48 149.23 L146.84 148.91 L148.8 148.8 L150.76 148.91 L152.12 149.23 L153.21 149.75 L154.07 150.48 L154.7 151.4 L155.07 152.55 Z" fill="#000" stroke="#2c2c2c" stroke-width="0.34" vector-effect="non-scaling-stroke" transform="translate(148.9 153.8) scale(0.4) translate(-148.9 -153.8)"/></g><ellipse cx="149.2" cy="154" rx="0.55" ry="0.9" fill="#fff" stroke="none" stroke-width="0" filter="url(#b0)"/><ellipse cx="150" cy="166.6" rx="0.7" ry="0.9" fill="#fff" stroke="none" stroke-width="0" filter="url(#b0)"/>
<rect x="127.0" y="132.1" width="45.5" height="44.599999999999994" fill="none" stroke="#a4a4a4" stroke-width="0.65" />
<line x1="127.6" y1="176.85" x2="137.3" y2="176.85" stroke="#3a3a3a" stroke-width="0.85" />
<line x1="139.5" y1="176.85" x2="146.6" y2="176.85" stroke="#585858" stroke-width="0.75" />
<line x1="149.3" y1="176.85" x2="157.8" y2="176.85" stroke="#585858" stroke-width="0.75" />
<line x1="160.0" y1="176.85" x2="167.6" y2="176.85" stroke="#585858" stroke-width="0.75" />
<line x1="169.7" y1="176.85" x2="172.4" y2="176.85" stroke="#585858" stroke-width="0.75" />
<line x1="126.9" y1="169.2" x2="126.9" y2="177.0" stroke="#4a4a4a" stroke-width="0.85" />
<line x1="126.9" y1="159.7" x2="126.9" y2="167.1" stroke="#7a7a7a" stroke-width="0.7" />
<line x1="126.9" y1="148.7" x2="126.9" y2="157.3" stroke="#7a7a7a" stroke-width="0.7" />
<line x1="126.9" y1="139.1" x2="126.9" y2="146.5" stroke="#7a7a7a" stroke-width="0.7" />
<line x1="126.9" y1="133.7" x2="126.9" y2="136.9" stroke="#7a7a7a" stroke-width="0.7" />
<text x="132.4" y="180.5" font-size="3.2" font-weight="bold" fill="#111" text-anchor="middle" stroke="#111" stroke-width="0.12">0</text>
<text x="136.3" y="180.5" font-size="3.2" font-weight="bold" fill="#111" text-anchor="middle" stroke="#111" stroke-width="0.12">10²</text>
<text x="148.2" y="180.5" font-size="3.2" font-weight="bold" fill="#111" text-anchor="middle" stroke="#111" stroke-width="0.12">10³</text>
<text x="159.0" y="180.5" font-size="3.2" font-weight="bold" fill="#111" text-anchor="middle" stroke="#111" stroke-width="0.12">10⁴</text>
<text x="169.0" y="180.5" font-size="3.2" font-weight="bold" fill="#111" text-anchor="middle" stroke="#111" stroke-width="0.12">10⁵</text>
<text x="125.8" y="136.3" font-size="2.8" font-weight="bold" fill="#222" text-anchor="end" transform="rotate(-20 125.8 136.3)" >10⁵</text>
<text x="125.8" y="146.4" font-size="2.8" font-weight="bold" fill="#222" text-anchor="end" transform="rotate(-20 125.8 146.4)" >10⁴</text>
<text x="125.8" y="158.7" font-size="2.8" font-weight="bold" fill="#222" text-anchor="end" transform="rotate(-20 125.8 158.7)" >10³</text>
<text x="125.8" y="167.7" font-size="2.8" font-weight="bold" fill="#222" text-anchor="end" transform="rotate(-20 125.8 167.7)" >10²</text>
<text x="125.8" y="173.2" font-size="2.8" font-weight="bold" fill="#222" text-anchor="end" transform="rotate(-20 125.8 173.2)" >0</text>
<text x="128.9" y="137.4" font-size="5.6" font-weight="bold" fill="#000" text-anchor="start" stroke="#000" stroke-width="0.14" >0</text>
<text x="171.9" y="137.4" font-size="5.6" font-weight="bold" fill="#000" text-anchor="end" stroke="#000" stroke-width="0.14" >15</text>
<text x="128.9" y="174.8" font-size="5.6" font-weight="bold" fill="#000" text-anchor="start" stroke="#000" stroke-width="0.14" >0</text>
<text x="171.9" y="174.8" font-size="5.6" font-weight="bold" fill="#000" text-anchor="end" stroke="#000" stroke-width="0.14" >85</text>
<line x1="79.5" y1="131.6" x2="79.5" y2="176.4" stroke="#b0b0b0" stroke-width="0.55" />
<line x1="64.7" y1="152.2" x2="111.0" y2="152.2" stroke="#b0b0b0" stroke-width="0.55" />
<g filter="url(#b2)"><path d="M81.0 154 C81.12 147.18 82.16 143 86.8 143 C91.44 143 92.48 147.18 92.6 154 Z" fill="#d4d4d4" stroke="#777" stroke-width="0.38" vector-effect="non-scaling-stroke" transform="translate(86.8 154) scale(1) translate(-86.8 -154)"/><path d="M81.0 154 C81.12 147.18 82.16 143 86.8 143 C91.44 143 92.48 147.18 92.6 154 Z" fill="#c4c4c4" stroke="#777" stroke-width="0.38" vector-effect="non-scaling-stroke" transform="translate(86.8 154) scale(0.84) translate(-86.8 -154)"/><path d="M81.0 154 C81.12 147.18 82.16 143 86.8 143 C91.44 143 92.48 147.18 92.6 154 Z" fill="#b4b4b4" stroke="#777" stroke-width="0.38" vector-effect="non-scaling-stroke" transform="translate(86.8 154) scale(0.68) translate(-86.8 -154)"/><path d="M81.0 154 C81.12 147.18 82.16 143 86.8 143 C91.44 143 92.48 147.18 92.6 154 Z" fill="#a6a6a6" stroke="#777" stroke-width="0.38" vector-effect="non-scaling-stroke" transform="translate(86.8 154) scale(0.52) translate(-86.8 -154)"/><path d="M81.0 154 C81.12 147.18 82.16 143 86.8 143 C91.44 143 92.48 147.18 92.6 154 Z" fill="#9a9a9a" stroke="#777" stroke-width="0.38" vector-effect="non-scaling-stroke" transform="translate(86.8 154) scale(0.3) translate(-86.8 -154)"/></g><g filter="url(#b2)"><path d="M93.5 155.2 L93.35 157.17 L92.91 158.75 L92.19 160.08 L91.22 161.16 L90.01 161.95 L88.58 162.44 L86.8 162.6 L85.02 162.44 L83.59 161.95 L82.38 161.16 L81.41 160.08 L80.69 158.75 L80.25 157.17 L80.1 155.2 L80.25 153.23 L80.69 151.65 L81.41 150.32 L82.38 149.24 L83.59 148.45 L85.02 147.96 L86.8 147.8 L88.58 147.96 L90.01 148.45 L91.22 149.24 L92.19 150.32 L92.91 151.65 L93.35 153.23 Z" fill="#f6f6f6" stroke="#2c2c2c" stroke-width="0.34" vector-effect="non-scaling-stroke" transform="translate(86.9 154.6) scale(1) translate(-86.9 -154.6)"/><path d="M93.5 155.2 L93.35 157.17 L92.91 158.75 L92.19 160.08 L91.22 161.16 L90.01 161.95 L88.58 162.44 L86.8 162.6 L85.02 162.44 L83.59 161.95 L82.38 161.16 L81.41 160.08 L80.69 158.75 L80.25 157.17 L80.1 155.2 L80.25 153.23 L80.69 151.65 L81.41 150.32 L82.38 149.24 L83.59 148.45 L85.02 147.96 L86.8 147.8 L88.58 147.96 L90.01 148.45 L91.22 149.24 L92.19 150.32 L92.91 151.65 L93.35 153.23 Z" fill="#e8e8e8" stroke="#2c2c2c" stroke-width="0.34" vector-effect="non-scaling-stroke" transform="translate(86.9 154.6) scale(0.87) translate(-86.9 -154.6)"/><path d="M93.5 155.2 L93.35 157.17 L92.91 158.75 L92.19 160.08 L91.22 161.16 L90.01 161.95 L88.58 162.44 L86.8 162.6 L85.02 162.44 L83.59 161.95 L82.38 161.16 L81.41 160.08 L80.69 158.75 L80.25 157.17 L80.1 155.2 L80.25 153.23 L80.69 151.65 L81.41 150.32 L82.38 149.24 L83.59 148.45 L85.02 147.96 L86.8 147.8 L88.58 147.96 L90.01 148.45 L91.22 149.24 L92.19 150.32 L92.91 151.65 L93.35 153.23 Z" fill="#d0d0d0" stroke="#2c2c2c" stroke-width="0.34" vector-effect="non-scaling-stroke" transform="translate(86.9 154.6) scale(0.76) translate(-86.9 -154.6)"/><path d="M93.5 155.2 L93.35 157.17 L92.91 158.75 L92.19 160.08 L91.22 161.16 L90.01 161.95 L88.58 162.44 L86.8 162.6 L85.02 162.44 L83.59 161.95 L82.38 161.16 L81.41 160.08 L80.69 158.75 L80.25 157.17 L80.1 155.2 L80.25 153.23 L80.69 151.65 L81.41 150.32 L82.38 149.24 L83.59 148.45 L85.02 147.96 L86.8 147.8 L88.58 147.96 L90.01 148.45 L91.22 149.24 L92.19 150.32 L92.91 151.65 L93.35 153.23 Z" fill="#a4a4a4" stroke="#2c2c2c" stroke-width="0.34" vector-effect="non-scaling-stroke" transform="translate(86.9 154.6) scale(0.67) translate(-86.9 -154.6)"/><path d="M93.5 155.2 L93.35 157.17 L92.91 158.75 L92.19 160.08 L91.22 161.16 L90.01 161.95 L88.58 162.44 L86.8 162.6 L85.02 162.44 L83.59 161.95 L82.38 161.16 L81.41 160.08 L80.69 158.75 L80.25 157.17 L80.1 155.2 L80.25 153.23 L80.69 151.65 L81.41 150.32 L82.38 149.24 L83.59 148.45 L85.02 147.96 L86.8 147.8 L88.58 147.96 L90.01 148.45 L91.22 149.24 L92.19 150.32 L92.91 151.65 L93.35 153.23 Z" fill="#666" stroke="#2c2c2c" stroke-width="0.34" vector-effect="non-scaling-stroke" transform="translate(86.9 154.6) scale(0.59) translate(-86.9 -154.6)"/><path d="M93.5 155.2 L93.35 157.17 L92.91 158.75 L92.19 160.08 L91.22 161.16 L90.01 161.95 L88.58 162.44 L86.8 162.6 L85.02 162.44 L83.59 161.95 L82.38 161.16 L81.41 160.08 L80.69 158.75 L80.25 157.17 L80.1 155.2 L80.25 153.23 L80.69 151.65 L81.41 150.32 L82.38 149.24 L83.59 148.45 L85.02 147.96 L86.8 147.8 L88.58 147.96 L90.01 148.45 L91.22 149.24 L92.19 150.32 L92.91 151.65 L93.35 153.23 Z" fill="#383838" stroke="#2c2c2c" stroke-width="0.34" vector-effect="non-scaling-stroke" transform="translate(86.9 154.6) scale(0.5) translate(-86.9 -154.6)"/><path d="M93.5 155.2 L93.35 157.17 L92.91 158.75 L92.19 160.08 L91.22 161.16 L90.01 161.95 L88.58 162.44 L86.8 162.6 L85.02 162.44 L83.59 161.95 L82.38 161.16 L81.41 160.08 L80.69 158.75 L80.25 157.17 L80.1 155.2 L80.25 153.23 L80.69 151.65 L81.41 150.32 L82.38 149.24 L83.59 148.45 L85.02 147.96 L86.8 147.8 L88.58 147.96 L90.01 148.45 L91.22 149.24 L92.19 150.32 L92.91 151.65 L93.35 153.23 Z" fill="#1c1c1c" stroke="#2c2c2c" stroke-width="0.34" vector-effect="non-scaling-stroke" transform="translate(86.9 154.6) scale(0.4) translate(-86.9 -154.6)"/><path d="M93.5 155.2 L93.35 157.17 L92.91 158.75 L92.19 160.08 L91.22 161.16 L90.01 161.95 L88.58 162.44 L86.8 162.6 L85.02 162.44 L83.59 161.95 L82.38 161.16 L81.41 160.08 L80.69 158.75 L80.25 157.17 L80.1 155.2 L80.25 153.23 L80.69 151.65 L81.41 150.32 L82.38 149.24 L83.59 148.45 L85.02 147.96 L86.8 147.8 L88.58 147.96 L90.01 148.45 L91.22 149.24 L92.19 150.32 L92.91 151.65 L93.35 153.23 Z" fill="#0a0a0a" stroke="#2c2c2c" stroke-width="0.34" vector-effect="non-scaling-stroke" transform="translate(86.9 154.6) scale(0.28) translate(-86.9 -154.6)"/></g><ellipse cx="87.2" cy="154.4" rx="0.7" ry="0.6" fill="#fff" stroke="none" stroke-width="0" filter="url(#b0)"/>
<rect x="64.7" y="131.6" width="46.3" height="44.80000000000001" fill="none" stroke="#a4a4a4" stroke-width="0.65" />
<line x1="65.3" y1="176.55" x2="75.0" y2="176.55" stroke="#3a3a3a" stroke-width="0.85" />
<line x1="77.2" y1="176.55" x2="84.3" y2="176.55" stroke="#9a9a9a" stroke-width="0.75" />
<line x1="87.0" y1="176.55" x2="95.5" y2="176.55" stroke="#9a9a9a" stroke-width="0.75" />
<line x1="97.7" y1="176.55" x2="105.3" y2="176.55" stroke="#9a9a9a" stroke-width="0.75" />
<line x1="107.4" y1="176.55" x2="110.1" y2="176.55" stroke="#9a9a9a" stroke-width="0.75" />
<line x1="64.6" y1="168.9" x2="64.6" y2="176.70000000000002" stroke="#4a4a4a" stroke-width="0.85" />
<line x1="64.6" y1="159.4" x2="64.6" y2="166.8" stroke="#7a7a7a" stroke-width="0.7" />
<line x1="64.6" y1="148.4" x2="64.6" y2="157.0" stroke="#7a7a7a" stroke-width="0.7" />
<line x1="64.6" y1="138.8" x2="64.6" y2="146.2" stroke="#7a7a7a" stroke-width="0.7" />
<line x1="64.6" y1="133.4" x2="64.6" y2="136.6" stroke="#7a7a7a" stroke-width="0.7" />
<text x="70.1" y="180.2" font-size="3.2" font-weight="bold" fill="#8a8a8a" text-anchor="middle" stroke="#8a8a8a" stroke-width="0.12">0</text>
<text x="74.0" y="180.2" font-size="3.2" font-weight="bold" fill="#8a8a8a" text-anchor="middle" stroke="#8a8a8a" stroke-width="0.12">10²</text>
<text x="85.9" y="180.2" font-size="3.2" font-weight="bold" fill="#8a8a8a" text-anchor="middle" stroke="#8a8a8a" stroke-width="0.12">10³</text>
<text x="96.7" y="180.2" font-size="3.2" font-weight="bold" fill="#8a8a8a" text-anchor="middle" stroke="#8a8a8a" stroke-width="0.12">10⁴</text>
<text x="106.7" y="180.2" font-size="3.2" font-weight="bold" fill="#8a8a8a" text-anchor="middle" stroke="#8a8a8a" stroke-width="0.12">10⁵</text>
<text x="63.5" y="135.8" font-size="2.8" font-weight="bold" fill="#666" text-anchor="end" transform="rotate(-20 63.5 135.8)" >10⁵</text>
<text x="63.5" y="145.9" font-size="2.8" font-weight="bold" fill="#666" text-anchor="end" transform="rotate(-20 63.5 145.9)" >10⁴</text>
<text x="63.5" y="158.2" font-size="2.8" font-weight="bold" fill="#666" text-anchor="end" transform="rotate(-20 63.5 158.2)" >10³</text>
<text x="63.5" y="167.2" font-size="2.8" font-weight="bold" fill="#666" text-anchor="end" transform="rotate(-20 63.5 167.2)" >10²</text>
<text x="63.5" y="172.7" font-size="2.8" font-weight="bold" fill="#666" text-anchor="end" transform="rotate(-20 63.5 172.7)" >0</text>
<text transform="translate(66.2 137.1) scale(0.86 1)" font-size="5.9" font-weight="bold" text-anchor="start" stroke="#000" stroke-width="0.14">0</text>
<text transform="translate(110.3 137.1) scale(0.86 1)" font-size="5.9" font-weight="bold" text-anchor="end" stroke="#000" stroke-width="0.14">26.2</text>
<text transform="translate(66.2 175.0) scale(0.86 1)" font-size="5.9" font-weight="bold" text-anchor="start" stroke="#000" stroke-width="0.14">0</text>
<text transform="translate(110.3 175.0) scale(0.86 1)" font-size="5.9" font-weight="bold" text-anchor="end" stroke="#000" stroke-width="0.14">73.8</text>
<line x1="193.5" y1="132.1" x2="193.5" y2="176.7" stroke="#b0b0b0" stroke-width="0.55" />
<line x1="178.4" y1="151.3" x2="225.3" y2="151.3" stroke="#b0b0b0" stroke-width="0.55" />
<ellipse cx="201.6" cy="159.8" rx="6.6" ry="5.4" fill="#f4f4f4" stroke="#888" stroke-width="0.35" /><g filter="url(#b2)"><path d="M208.37 155.96 L208.36 157.64 L208.01 158.96 L207.33 160.08 L206.36 161.02 L205.11 161.75 L203.57 162.27 L201.52 162.58 L199.45 162.63 L197.85 162.39 L196.48 161.88 L195.37 161.13 L194.51 160.14 L193.93 158.9 L193.63 157.24 L193.64 155.56 L193.99 154.24 L194.67 153.12 L195.64 152.18 L196.89 151.45 L198.43 150.93 L200.48 150.62 L202.55 150.57 L204.15 150.81 L205.52 151.32 L206.63 152.07 L207.49 153.06 L208.07 154.3 Z" fill="#f6f6f6" stroke="#2c2c2c" stroke-width="0.34" vector-effect="non-scaling-stroke" transform="translate(201 156.6) scale(1) translate(-201 -156.6)"/><path d="M208.37 155.96 L208.36 157.64 L208.01 158.96 L207.33 160.08 L206.36 161.02 L205.11 161.75 L203.57 162.27 L201.52 162.58 L199.45 162.63 L197.85 162.39 L196.48 161.88 L195.37 161.13 L194.51 160.14 L193.93 158.9 L193.63 157.24 L193.64 155.56 L193.99 154.24 L194.67 153.12 L195.64 152.18 L196.89 151.45 L198.43 150.93 L200.48 150.62 L202.55 150.57 L204.15 150.81 L205.52 151.32 L206.63 152.07 L207.49 153.06 L208.07 154.3 Z" fill="#e8e8e8" stroke="#2c2c2c" stroke-width="0.34" vector-effect="non-scaling-stroke" transform="translate(201 156.6) scale(0.87) translate(-201 -156.6)"/><path d="M208.37 155.96 L208.36 157.64 L208.01 158.96 L207.33 160.08 L206.36 161.02 L205.11 161.75 L203.57 162.27 L201.52 162.58 L199.45 162.63 L197.85 162.39 L196.48 161.88 L195.37 161.13 L194.51 160.14 L193.93 158.9 L193.63 157.24 L193.64 155.56 L193.99 154.24 L194.67 153.12 L195.64 152.18 L196.89 151.45 L198.43 150.93 L200.48 150.62 L202.55 150.57 L204.15 150.81 L205.52 151.32 L206.63 152.07 L207.49 153.06 L208.07 154.3 Z" fill="#d0d0d0" stroke="#2c2c2c" stroke-width="0.34" vector-effect="non-scaling-stroke" transform="translate(201 156.6) scale(0.76) translate(-201 -156.6)"/><path d="M208.37 155.96 L208.36 157.64 L208.01 158.96 L207.33 160.08 L206.36 161.02 L205.11 161.75 L203.57 162.27 L201.52 162.58 L199.45 162.63 L197.85 162.39 L196.48 161.88 L195.37 161.13 L194.51 160.14 L193.93 158.9 L193.63 157.24 L193.64 155.56 L193.99 154.24 L194.67 153.12 L195.64 152.18 L196.89 151.45 L198.43 150.93 L200.48 150.62 L202.55 150.57 L204.15 150.81 L205.52 151.32 L206.63 152.07 L207.49 153.06 L208.07 154.3 Z" fill="#a4a4a4" stroke="#2c2c2c" stroke-width="0.34" vector-effect="non-scaling-stroke" transform="translate(201 156.6) scale(0.67) translate(-201 -156.6)"/><path d="M208.37 155.96 L208.36 157.64 L208.01 158.96 L207.33 160.08 L206.36 161.02 L205.11 161.75 L203.57 162.27 L201.52 162.58 L199.45 162.63 L197.85 162.39 L196.48 161.88 L195.37 161.13 L194.51 160.14 L193.93 158.9 L193.63 157.24 L193.64 155.56 L193.99 154.24 L194.67 153.12 L195.64 152.18 L196.89 151.45 L198.43 150.93 L200.48 150.62 L202.55 150.57 L204.15 150.81 L205.52 151.32 L206.63 152.07 L207.49 153.06 L208.07 154.3 Z" fill="#666" stroke="#2c2c2c" stroke-width="0.34" vector-effect="non-scaling-stroke" transform="translate(201 156.6) scale(0.59) translate(-201 -156.6)"/><path d="M208.37 155.96 L208.36 157.64 L208.01 158.96 L207.33 160.08 L206.36 161.02 L205.11 161.75 L203.57 162.27 L201.52 162.58 L199.45 162.63 L197.85 162.39 L196.48 161.88 L195.37 161.13 L194.51 160.14 L193.93 158.9 L193.63 157.24 L193.64 155.56 L193.99 154.24 L194.67 153.12 L195.64 152.18 L196.89 151.45 L198.43 150.93 L200.48 150.62 L202.55 150.57 L204.15 150.81 L205.52 151.32 L206.63 152.07 L207.49 153.06 L208.07 154.3 Z" fill="#383838" stroke="#2c2c2c" stroke-width="0.34" vector-effect="non-scaling-stroke" transform="translate(201 156.6) scale(0.5) translate(-201 -156.6)"/><path d="M208.37 155.96 L208.36 157.64 L208.01 158.96 L207.33 160.08 L206.36 161.02 L205.11 161.75 L203.57 162.27 L201.52 162.58 L199.45 162.63 L197.85 162.39 L196.48 161.88 L195.37 161.13 L194.51 160.14 L193.93 158.9 L193.63 157.24 L193.64 155.56 L193.99 154.24 L194.67 153.12 L195.64 152.18 L196.89 151.45 L198.43 150.93 L200.48 150.62 L202.55 150.57 L204.15 150.81 L205.52 151.32 L206.63 152.07 L207.49 153.06 L208.07 154.3 Z" fill="#1c1c1c" stroke="#2c2c2c" stroke-width="0.34" vector-effect="non-scaling-stroke" transform="translate(201 156.6) scale(0.4) translate(-201 -156.6)"/><path d="M208.37 155.96 L208.36 157.64 L208.01 158.96 L207.33 160.08 L206.36 161.02 L205.11 161.75 L203.57 162.27 L201.52 162.58 L199.45 162.63 L197.85 162.39 L196.48 161.88 L195.37 161.13 L194.51 160.14 L193.93 158.9 L193.63 157.24 L193.64 155.56 L193.99 154.24 L194.67 153.12 L195.64 152.18 L196.89 151.45 L198.43 150.93 L200.48 150.62 L202.55 150.57 L204.15 150.81 L205.52 151.32 L206.63 152.07 L207.49 153.06 L208.07 154.3 Z" fill="#0a0a0a" stroke="#2c2c2c" stroke-width="0.34" vector-effect="non-scaling-stroke" transform="translate(201 156.6) scale(0.28) translate(-201 -156.6)"/></g><ellipse cx="201.3" cy="156.9" rx="0.7" ry="0.6" fill="#fff" stroke="none" stroke-width="0" filter="url(#b0)"/>
<rect x="178.4" y="132.1" width="46.900000000000006" height="44.599999999999994" fill="none" stroke="#a4a4a4" stroke-width="0.65" />
<line x1="179.0" y1="176.85" x2="188.70000000000002" y2="176.85" stroke="#3a3a3a" stroke-width="0.85" />
<line x1="190.9" y1="176.85" x2="198.0" y2="176.85" stroke="#585858" stroke-width="0.75" />
<line x1="200.7" y1="176.85" x2="209.2" y2="176.85" stroke="#585858" stroke-width="0.75" />
<line x1="211.4" y1="176.85" x2="219.0" y2="176.85" stroke="#585858" stroke-width="0.75" />
<line x1="221.1" y1="176.85" x2="223.8" y2="176.85" stroke="#585858" stroke-width="0.75" />
<line x1="178.3" y1="169.2" x2="178.3" y2="177.0" stroke="#4a4a4a" stroke-width="0.85" />
<line x1="178.3" y1="159.7" x2="178.3" y2="167.1" stroke="#7a7a7a" stroke-width="0.7" />
<line x1="178.3" y1="148.7" x2="178.3" y2="157.3" stroke="#7a7a7a" stroke-width="0.7" />
<line x1="178.3" y1="139.1" x2="178.3" y2="146.5" stroke="#7a7a7a" stroke-width="0.7" />
<line x1="178.3" y1="133.7" x2="178.3" y2="136.9" stroke="#7a7a7a" stroke-width="0.7" />
<text x="183.8" y="180.5" font-size="3.2" font-weight="bold" fill="#111" text-anchor="middle" stroke="#111" stroke-width="0.12">0</text>
<text x="187.7" y="180.5" font-size="3.2" font-weight="bold" fill="#111" text-anchor="middle" stroke="#111" stroke-width="0.12">10²</text>
<text x="199.6" y="180.5" font-size="3.2" font-weight="bold" fill="#111" text-anchor="middle" stroke="#111" stroke-width="0.12">10³</text>
<text x="210.4" y="180.5" font-size="3.2" font-weight="bold" fill="#111" text-anchor="middle" stroke="#111" stroke-width="0.12">10⁴</text>
<text x="220.4" y="180.5" font-size="3.2" font-weight="bold" fill="#111" text-anchor="middle" stroke="#111" stroke-width="0.12">10⁵</text>
<text x="177.2" y="136.3" font-size="2.8" font-weight="bold" fill="#222" text-anchor="end" transform="rotate(-20 177.2 136.3)" >10⁵</text>
<text x="177.2" y="146.4" font-size="2.8" font-weight="bold" fill="#222" text-anchor="end" transform="rotate(-20 177.2 146.4)" >10⁴</text>
<text x="177.2" y="158.7" font-size="2.8" font-weight="bold" fill="#222" text-anchor="end" transform="rotate(-20 177.2 158.7)" >10³</text>
<text x="177.2" y="167.7" font-size="2.8" font-weight="bold" fill="#222" text-anchor="end" transform="rotate(-20 177.2 167.7)" >10²</text>
<text x="177.2" y="173.2" font-size="2.8" font-weight="bold" fill="#222" text-anchor="end" transform="rotate(-20 177.2 173.2)" >0</text>
<text x="180.3" y="137.4" font-size="5.6" font-weight="bold" fill="#000" text-anchor="start" stroke="#000" stroke-width="0.14" >0</text>
<text x="224.2" y="137.4" font-size="5.6" font-weight="bold" fill="#000" text-anchor="end" stroke="#000" stroke-width="0.14" >0.6</text>
<text x="180.3" y="174.8" font-size="5.6" font-weight="bold" fill="#000" text-anchor="start" stroke="#000" stroke-width="0.14" >0</text>
<text x="224.2" y="174.8" font-size="5.6" font-weight="bold" fill="#000" text-anchor="end" stroke="#000" stroke-width="0.14" >99.4</text>
<text x="6.6" y="55.0" font-size="4.5" font-weight="bold" fill="#000" text-anchor="middle" transform="rotate(-90 6.6 55.0)" stroke="#000" stroke-width="0.14" >IL-2</text>
<text x="7.0" y="103.8" font-size="4.7" font-weight="bold" fill="#000" text-anchor="middle" transform="rotate(-90 7.0 103.8)" stroke="#000" stroke-width="0.14" >TNF-α</text>
<text x="6.5" y="154.0" font-size="5.4" font-weight="bold" fill="#000" text-anchor="middle" textLength="11.5" lengthAdjust="spacingAndGlyphs" transform="rotate(-90 6.5 154.0)" stroke="#000" stroke-width="0.14" >IFN-γ</text>
<text x="120.8" y="56.0" font-size="4.7" font-weight="bold" fill="#000" text-anchor="middle" transform="rotate(-90 120.8 56.0)" stroke="#000" stroke-width="0.14" >IL-4</text>
<text x="121.8" y="104.1" font-size="4.9" font-weight="bold" fill="#000" text-anchor="middle" transform="rotate(-90 121.8 104.1)" stroke="#000" stroke-width="0.14" >IL-10</text>
<text x="121.2" y="153.7" font-size="4.65" font-weight="bold" fill="#000" text-anchor="middle" transform="rotate(-90 121.2 153.7)" stroke="#000" stroke-width="0.14" >CTLA-4</text>
<line x1="13.5" y1="184.3" x2="53.4" y2="184.25" stroke="#1a1a1a" stroke-width="1.15" />
<text x="62.0" y="186.6" font-size="5.0" font-weight="bold" fill="#000" text-anchor="middle" stroke="#000" stroke-width="0.14" >CD4</text>
<line x1="69.8" y1="184.3" x2="104.6" y2="184.25" stroke="#1a1a1a" stroke-width="1.15" />
<path d="M103.7 183.0 L106.8 184.25 L103.7 185.5 Z" fill="#111"/>
<line x1="128.6" y1="184.15" x2="169.6" y2="184.15" stroke="#909090" stroke-width="1.15" />
<text x="177.8" y="186.6" font-size="5.0" font-weight="bold" fill="#000" text-anchor="middle" stroke="#000" stroke-width="0.14" >CD4</text>
<line x1="184.4" y1="184.15" x2="217.5" y2="184.15" stroke="#9a9a9a" stroke-width="1.15" />
<line x1="217.5" y1="184.15" x2="222.0" y2="184.15" stroke="#555" stroke-width="1.15" />
<path d="M221.2 183.0 L223.8 184.15 L221.2 185.3 Z" fill="#111" stroke="#111" stroke-width="0.5" stroke-linejoin="round"/>
<text x="259.0" y="11.2" font-size="11.6" font-weight="bold" fill="#000" text-anchor="start" >B</text>
<line x1="275.5" y1="21.0" x2="275.5" y2="109.75" stroke="#000" stroke-width="1.1" />
<line x1="273.0" y1="109.2" x2="275.5" y2="109.2" stroke="#000" stroke-width="0.9" />
<text x="272.9" y="111.2" font-size="5.7" font-weight="bold" fill="#000" text-anchor="end" textLength="2.95" lengthAdjust="spacingAndGlyphs" stroke="#000" stroke-width="0.14" >0</text>
<line x1="273.0" y1="91.66" x2="275.5" y2="91.66" stroke="#000" stroke-width="0.9" />
<text x="272.9" y="93.66" font-size="5.7" font-weight="bold" fill="#000" text-anchor="end" textLength="11.79" lengthAdjust="spacingAndGlyphs" stroke="#000" stroke-width="0.14" >1000</text>
<line x1="273.0" y1="74.12" x2="275.5" y2="74.12" stroke="#000" stroke-width="0.9" />
<text x="272.9" y="76.12" font-size="5.7" font-weight="bold" fill="#000" text-anchor="end" textLength="11.79" lengthAdjust="spacingAndGlyphs" stroke="#000" stroke-width="0.14" >2000</text>
<line x1="273.0" y1="56.58" x2="275.5" y2="56.58" stroke="#000" stroke-width="0.9" />
<text x="272.9" y="58.58" font-size="5.7" font-weight="bold" fill="#000" text-anchor="end" textLength="11.79" lengthAdjust="spacingAndGlyphs" stroke="#000" stroke-width="0.14" >3000</text>
<line x1="273.0" y1="39.04" x2="275.5" y2="39.04" stroke="#000" stroke-width="0.9" />
<text x="272.9" y="41.04" font-size="5.7" font-weight="bold" fill="#000" text-anchor="end" textLength="11.79" lengthAdjust="spacingAndGlyphs" stroke="#000" stroke-width="0.14" >4000</text>
<line x1="273.0" y1="21.5" x2="275.5" y2="21.5" stroke="#000" stroke-width="0.9" />
<text x="272.9" y="23.5" font-size="5.7" font-weight="bold" fill="#000" text-anchor="end" textLength="11.79" lengthAdjust="spacingAndGlyphs" stroke="#000" stroke-width="0.14" >5000</text>
<line x1="275.0" y1="109.2" x2="386.5" y2="109.2" stroke="#000" stroke-width="1.15" />
<line x1="388.5" y1="21.2" x2="388.5" y2="109.65" stroke="#111" stroke-width="0.8" />
<line x1="388.1" y1="109.2" x2="500.1" y2="109.2" stroke="#000" stroke-width="1.15" />
<line x1="499.7" y1="21.0" x2="499.7" y2="109.75" stroke="#000" stroke-width="1.1" />
<line x1="499.7" y1="109.2" x2="502.0" y2="109.2" stroke="#000" stroke-width="0.9" />
<text x="503.2" y="110.8" font-size="5.7" font-weight="bold" fill="#000" text-anchor="start" textLength="2.95" lengthAdjust="spacingAndGlyphs" stroke="#000" stroke-width="0.14" >0</text>
<line x1="499.7" y1="84.9" x2="502.0" y2="84.9" stroke="#000" stroke-width="0.9" />
<text x="503.2" y="86.5" font-size="5.7" font-weight="bold" fill="#000" text-anchor="start" textLength="11.79" lengthAdjust="spacingAndGlyphs" stroke="#000" stroke-width="0.14" >5000</text>
<line x1="499.7" y1="60.6" x2="502.0" y2="60.6" stroke="#000" stroke-width="0.9" />
<text x="503.2" y="62.2" font-size="5.7" font-weight="bold" fill="#000" text-anchor="start" textLength="14.73" lengthAdjust="spacingAndGlyphs" stroke="#000" stroke-width="0.14" >10000</text>
<line x1="499.7" y1="36.3" x2="502.0" y2="36.3" stroke="#000" stroke-width="0.9" />
<text x="503.2" y="37.9" font-size="5.7" font-weight="bold" fill="#000" text-anchor="start" textLength="14.73" lengthAdjust="spacingAndGlyphs" stroke="#000" stroke-width="0.14" >15000</text>
<text x="257.5" y="62.4" font-size="6.3" font-weight="bold" fill="#000" text-anchor="middle" textLength="74.6" lengthAdjust="spacingAndGlyphs" transform="rotate(-90 257.5 62.4)" stroke="#000" stroke-width="0.14" >Cytokine levels in pg/ml</text>
<line x1="284.05" y1="63.6" x2="284.05" y2="80.4" stroke="#000" stroke-width="1.15" />
<line x1="281.9" y1="63.6" x2="286.2" y2="63.6" stroke="#000" stroke-width="1.15" />
<rect x="280.6" y="80.5" width="6.9" height="28.7" fill="#fff" stroke="#000" stroke-width="1.2" />
<line x1="294.5" y1="70.9" x2="294.5" y2="86.3" stroke="#000" stroke-width="1.15" />
<line x1="292.2" y1="70.9" x2="296.8" y2="70.9" stroke="#000" stroke-width="1.15" />
<rect x="290.7" y="85.8" width="7.6" height="23.4" fill="#000" stroke="none" stroke-width="0" />
<line x1="311.85" y1="83.2" x2="311.85" y2="89.2" stroke="#000" stroke-width="1.15" />
<line x1="309.75" y1="83.2" x2="313.95" y2="83.2" stroke="#000" stroke-width="1.15" />
<rect x="308.4" y="89.3" width="6.9" height="19.9" fill="#fff" stroke="#000" stroke-width="1.2" />
<line x1="322.05" y1="101.6" x2="322.05" y2="103.7" stroke="#000" stroke-width="1.15" />
<line x1="319.95" y1="101.6" x2="324.15" y2="101.6" stroke="#000" stroke-width="1.15" />
<rect x="318.2" y="103.2" width="7.7" height="6.0" fill="#000" stroke="none" stroke-width="0" />
<line x1="339.6" y1="92.8" x2="339.6" y2="100.5" stroke="#000" stroke-width="1.15" />
<line x1="337.5" y1="92.8" x2="341.7" y2="92.8" stroke="#000" stroke-width="1.15" />
<rect x="336.2" y="100.6" width="6.8" height="8.6" fill="#fff" stroke="#000" stroke-width="1.2" />
<line x1="349.8" y1="103.2" x2="349.8" y2="104.7" stroke="#000" stroke-width="1.15" />
<line x1="347.7" y1="103.2" x2="351.9" y2="103.2" stroke="#000" stroke-width="1.15" />
<rect x="345.8" y="104.2" width="8.0" height="5.0" fill="#000" stroke="none" stroke-width="0" />
<line x1="366.95" y1="34.6" x2="366.95" y2="51.1" stroke="#000" stroke-width="1.15" />
<line x1="364.85" y1="34.6" x2="369.05" y2="34.6" stroke="#000" stroke-width="1.15" />
<rect x="363.5" y="51.2" width="6.9" height="58.0" fill="#fff" stroke="#000" stroke-width="1.2" />
<line x1="377.8" y1="105.6" x2="377.8" y2="107.1" stroke="#000" stroke-width="1.15" />
<line x1="375.2" y1="105.6" x2="380.4" y2="105.6" stroke="#000" stroke-width="1.15" />
<rect x="373.8" y="106.6" width="8.0" height="2.6" fill="#000" stroke="none" stroke-width="0" />
<line x1="393.9" y1="95.4" x2="393.9" y2="97.4" stroke="#000" stroke-width="1.15" />
<line x1="392.35" y1="95.4" x2="395.45" y2="95.4" stroke="#000" stroke-width="1.15" />
<rect x="391.6" y="97.5" width="4.6" height="11.7" fill="#fff" stroke="#000" stroke-width="1.2" />
<line x1="401.2" y1="41.2" x2="401.2" y2="63.5" stroke="#000" stroke-width="1.15" />
<line x1="399.65" y1="41.2" x2="402.75" y2="41.2" stroke="#000" stroke-width="1.15" />
<rect x="398.3" y="63.0" width="5.8" height="46.2" fill="#000" stroke="none" stroke-width="0" />
<line x1="412.4" y1="30.8" x2="412.4" y2="57.3" stroke="#000" stroke-width="1.15" />
<line x1="410.85" y1="30.8" x2="413.95" y2="30.8" stroke="#000" stroke-width="1.15" />
<rect x="410.1" y="57.4" width="4.6" height="51.8" fill="#fff" stroke="#000" stroke-width="1.2" />
<line x1="419.35" y1="93.5" x2="419.35" y2="98.6" stroke="#000" stroke-width="1.15" />
<line x1="417.8" y1="93.5" x2="420.9" y2="93.5" stroke="#000" stroke-width="1.15" />
<rect x="416.8" y="98.1" width="5.1" height="11.1" fill="#000" stroke="none" stroke-width="0" />
<line x1="430.95" y1="34.7" x2="430.95" y2="65.9" stroke="#000" stroke-width="1.15" />
<line x1="429.4" y1="34.7" x2="432.5" y2="34.7" stroke="#000" stroke-width="1.15" />
<rect x="428.6" y="66.0" width="4.7" height="43.2" fill="#fff" stroke="#000" stroke-width="1.2" />
<line x1="437.7" y1="84.6" x2="437.7" y2="90.9" stroke="#000" stroke-width="1.15" />
<line x1="436.15" y1="84.6" x2="439.25" y2="84.6" stroke="#000" stroke-width="1.15" />
<rect x="435.0" y="90.4" width="5.4" height="18.8" fill="#000" stroke="none" stroke-width="0" />
<line x1="449.35" y1="91.6" x2="449.35" y2="97.7" stroke="#000" stroke-width="1.15" />
<line x1="447.8" y1="91.6" x2="450.9" y2="91.6" stroke="#000" stroke-width="1.15" />
<rect x="447.1" y="97.8" width="4.5" height="11.4" fill="#fff" stroke="#000" stroke-width="1.2" />
<line x1="455.95" y1="75.0" x2="455.95" y2="83.9" stroke="#000" stroke-width="1.15" />
<line x1="454.4" y1="75.0" x2="457.5" y2="75.0" stroke="#000" stroke-width="1.15" />
<rect x="453.1" y="83.4" width="5.7" height="25.8" fill="#000" stroke="none" stroke-width="0" />
<line x1="467.5" y1="84.3" x2="467.5" y2="91.3" stroke="#000" stroke-width="1.15" />
<line x1="465.95" y1="84.3" x2="469.05" y2="84.3" stroke="#000" stroke-width="1.15" />
<rect x="465.4" y="91.4" width="4.2" height="17.8" fill="#fff" stroke="#000" stroke-width="1.2" />
<line x1="474.25" y1="78.0" x2="474.25" y2="84.7" stroke="#000" stroke-width="1.15" />
<line x1="472.7" y1="78.0" x2="475.8" y2="78.0" stroke="#000" stroke-width="1.15" />
<rect x="471.5" y="84.2" width="5.5" height="25.0" fill="#000" stroke="none" stroke-width="0" />
<line x1="486.4" y1="75.4" x2="486.4" y2="81.6" stroke="#000" stroke-width="1.15" />
<line x1="484.85" y1="75.4" x2="487.95" y2="75.4" stroke="#000" stroke-width="1.15" />
<rect x="484.2" y="81.7" width="4.4" height="27.5" fill="#fff" stroke="#000" stroke-width="1.2" />
<rect x="490.2" y="108.2" width="7.4" height="1.0" fill="#000" stroke="none" stroke-width="0" />
<line x1="289.2" y1="109.2" x2="289.2" y2="111.3" stroke="#000" stroke-width="0.9" />
<text x="289.2" y="118.4" font-size="5.3" font-weight="bold" fill="#000" text-anchor="middle" stroke="#000" stroke-width="0.14" >IL-4</text>
<line x1="317.2" y1="109.2" x2="317.2" y2="111.3" stroke="#000" stroke-width="0.9" />
<text x="317.2" y="118.4" font-size="5.3" font-weight="bold" fill="#000" text-anchor="middle" stroke="#000" stroke-width="0.14" >IL-10</text>
<line x1="344.7" y1="109.2" x2="344.7" y2="111.3" stroke="#000" stroke-width="0.9" />
<text x="344.7" y="118.4" font-size="5.3" font-weight="bold" fill="#000" text-anchor="middle" stroke="#000" stroke-width="0.14" >IL-6</text>
<line x1="372.3" y1="109.2" x2="372.3" y2="111.3" stroke="#000" stroke-width="0.9" />
<text x="372.3" y="118.4" font-size="5.3" font-weight="bold" fill="#000" text-anchor="middle" stroke="#000" stroke-width="0.14" >IL-15</text>
<line x1="397.6" y1="109.2" x2="397.6" y2="111.3" stroke="#000" stroke-width="0.9" />
<text x="397.6" y="118.4" font-size="5.3" font-weight="bold" fill="#000" text-anchor="middle" stroke="#000" stroke-width="0.14" >IL-2</text>
<line x1="416.2" y1="109.2" x2="416.2" y2="111.3" stroke="#000" stroke-width="0.9" />
<text x="416.2" y="118.4" font-size="5.3" font-weight="bold" fill="#000" text-anchor="middle" stroke="#000" stroke-width="0.14" >IL-17</text>
<line x1="434.6" y1="109.2" x2="434.6" y2="111.3" stroke="#000" stroke-width="0.9" />
<text x="434.6" y="118.4" font-size="5.3" font-weight="bold" fill="#000" text-anchor="middle" stroke="#000" stroke-width="0.14" >IL-23</text>
<line x1="452.6" y1="109.2" x2="452.6" y2="111.3" stroke="#000" stroke-width="0.9" />
<line x1="470.8" y1="109.2" x2="470.8" y2="111.3" stroke="#000" stroke-width="0.9" />
<line x1="489.6" y1="109.2" x2="489.6" y2="111.3" stroke="#000" stroke-width="0.9" />
<text x="447.0" y="118.4" font-size="5.5" font-weight="bold" fill="#000" text-anchor="start" stroke="#000" stroke-width="0.14" >IFN<tspan font-size="5.2" stroke="none" dy="0.8">γ</tspan></text>
<text x="465.4" y="118.4" font-size="5.5" font-weight="bold" fill="#000" text-anchor="start" stroke="#000" stroke-width="0.14" >TNF-<tspan font-size="5.0" stroke="none" dy="0.8">α</tspan></text>
<text x="484.6" y="118.4" font-size="5.5" font-weight="bold" fill="#000" text-anchor="start" stroke="#000" stroke-width="0.14" >TGF-<tspan font-size="5.0" stroke="none" dy="0.8">β</tspan></text>
<line x1="308.8" y1="78.1" x2="325.9" y2="78.1" stroke="#000" stroke-width="1.15" />
<text x="317.35" y="78.4" font-size="7.6" font-weight="bold" fill="#000" text-anchor="middle" stroke="#000" stroke-width="0.14" >*</text>
<line x1="363.3" y1="28.9" x2="380.7" y2="28.9" stroke="#000" stroke-width="1.15" />
<text x="372.45" y="29.4" font-size="7.6" font-weight="bold" fill="#000" text-anchor="middle" stroke="#000" stroke-width="0.14" letter-spacing="0.9">**</text>
<line x1="446.2" y1="69.6" x2="459.2" y2="69.6" stroke="#000" stroke-width="1.15" />
<text x="453.4" y="70.6" font-size="7.6" font-weight="bold" fill="#000" text-anchor="middle" stroke="#000" stroke-width="0.14" >*</text>
<line x1="463.8" y1="69.6" x2="477.0" y2="69.6" stroke="#000" stroke-width="1.15" />
<text x="470.4" y="70.6" font-size="7.6" font-weight="bold" fill="#000" text-anchor="middle" stroke="#000" stroke-width="0.14" >*</text>
<line x1="483.8" y1="69.6" x2="497.0" y2="69.6" stroke="#000" stroke-width="1.15" />
<text x="490.85" y="70.6" font-size="7.6" font-weight="bold" fill="#000" text-anchor="middle" stroke="#000" stroke-width="0.14" letter-spacing="0.9">**</text>
<rect x="452.7" y="6.5" width="8.0" height="5.0" fill="#fff" stroke="#000" stroke-width="1.0" />
<rect x="452.2" y="16.8" width="9.0" height="5.6" fill="#000" stroke="none" stroke-width="0" />
<text x="465.2" y="11.3" font-size="6.5" font-weight="bold" fill="#000" text-anchor="start" textLength="16.3" lengthAdjust="spacingAndGlyphs" stroke="#000" stroke-width="0.14" >Tregs</text>
<text x="465.2" y="21.6" font-size="6.5" font-weight="bold" fill="#000" text-anchor="start" textLength="30.0" lengthAdjust="spacingAndGlyphs" stroke="#000" stroke-width="0.14" >Non-Tregs</text>
<text x="258.8" y="150.1" font-size="11.6" font-weight="bold" fill="#000" text-anchor="start" >C</text>
<line x1="290.8" y1="175.7" x2="290.8" y2="249.35000000000002" stroke="#000" stroke-width="1.1" />
<line x1="290.3" y1="248.8" x2="395.8" y2="248.8" stroke="#000" stroke-width="1.1" />
<line x1="288.8" y1="176.2" x2="290.8" y2="176.2" stroke="#000" stroke-width="0.8" />
<text x="288.3" y="178.2" font-size="5.3" font-weight="bold" fill="#000" text-anchor="end" stroke="#000" stroke-width="0.14" >10</text>
<line x1="288.8" y1="194.35" x2="290.8" y2="194.35" stroke="#000" stroke-width="0.8" />
<text x="288.3" y="196.35" font-size="5.3" font-weight="bold" fill="#000" text-anchor="end" stroke="#000" stroke-width="0.14" >1</text>
<line x1="288.8" y1="212.5" x2="290.8" y2="212.5" stroke="#000" stroke-width="0.8" />
<text x="288.3" y="214.5" font-size="5.3" font-weight="bold" fill="#000" text-anchor="end" stroke="#000" stroke-width="0.14" >0.1</text>
<line x1="288.8" y1="230.65" x2="290.8" y2="230.65" stroke="#000" stroke-width="0.8" />
<text x="288.3" y="232.65" font-size="5.3" font-weight="bold" fill="#000" text-anchor="end" stroke="#000" stroke-width="0.14" >0.01</text>
<line x1="288.8" y1="248.8" x2="290.8" y2="248.8" stroke="#000" stroke-width="0.8" />
<text x="288.3" y="250.8" font-size="5.3" font-weight="bold" fill="#000" text-anchor="end" stroke="#000" stroke-width="0.14" >0.001</text>
<text x="269.5" y="212.7" font-size="6.2" font-weight="bold" fill="#000" text-anchor="middle" transform="rotate(-90 269.5 212.7)" stroke="#000" stroke-width="0.14" >TGF-<tspan font-size="4.6" dy="0.7">β</tspan><tspan dy="-0.7">/IFN-</tspan><tspan font-size="4.6" dy="0.7">γ</tspan><tspan dy="-0.7"> ratio</tspan></text>
<line x1="317.0" y1="248.8" x2="317.0" y2="250.3" stroke="#000" stroke-width="0.9" />
<text x="317.0" y="256.6" font-size="5.5" font-weight="bold" fill="#000" text-anchor="middle" stroke="#000" stroke-width="0.14" >Treg</text>
<line x1="369.0" y1="248.8" x2="369.0" y2="250.3" stroke="#000" stroke-width="0.9" />
<text x="369.0" y="256.6" font-size="5.5" font-weight="bold" fill="#000" text-anchor="middle" stroke="#000" stroke-width="0.14" >Non-Treg</text>
<line x1="298.8" y1="185.35" x2="334.6" y2="185.35" stroke="#1a1a1a" stroke-width="0.8" />
<line x1="316.8" y1="181.85" x2="316.8" y2="192.6" stroke="#000" stroke-width="1.3" />
<line x1="307.8" y1="181.85" x2="326.0" y2="181.85" stroke="#000" stroke-width="1.25" />
<line x1="307.8" y1="190.55" x2="326.0" y2="190.55" stroke="#000" stroke-width="1.25" />
<path d="M315.1 182.4 L318.5 182.4 L316.8 185.6 Z" fill="#000"/>
<path d="M315.5 191.0 L318.1 191.0 L316.8 193.4 Z" fill="#000" stroke="#000" stroke-width="0.5" stroke-linejoin="round"/>
<line x1="351.8" y1="224.15" x2="387.0" y2="224.15" stroke="#1a1a1a" stroke-width="0.8" />
<line x1="368.9" y1="219.3" x2="368.9" y2="234.2" stroke="#000" stroke-width="1.3" />
<line x1="359.9" y1="219.3" x2="378.09999999999997" y2="219.3" stroke="#000" stroke-width="1.25" />
<line x1="359.9" y1="234.2" x2="378.09999999999997" y2="234.2" stroke="#000" stroke-width="1.25" />
<rect x="367.8" y="218.2" width="2.2" height="2.2" rx="0.5" fill="#000"/>
<rect x="367.8" y="223.5" width="2.2" height="2.2" rx="0.5" fill="#000"/>
<rect x="367.8" y="230.9" width="2.2" height="2.2" rx="0.5" fill="#000"/>
</svg></body></html>
